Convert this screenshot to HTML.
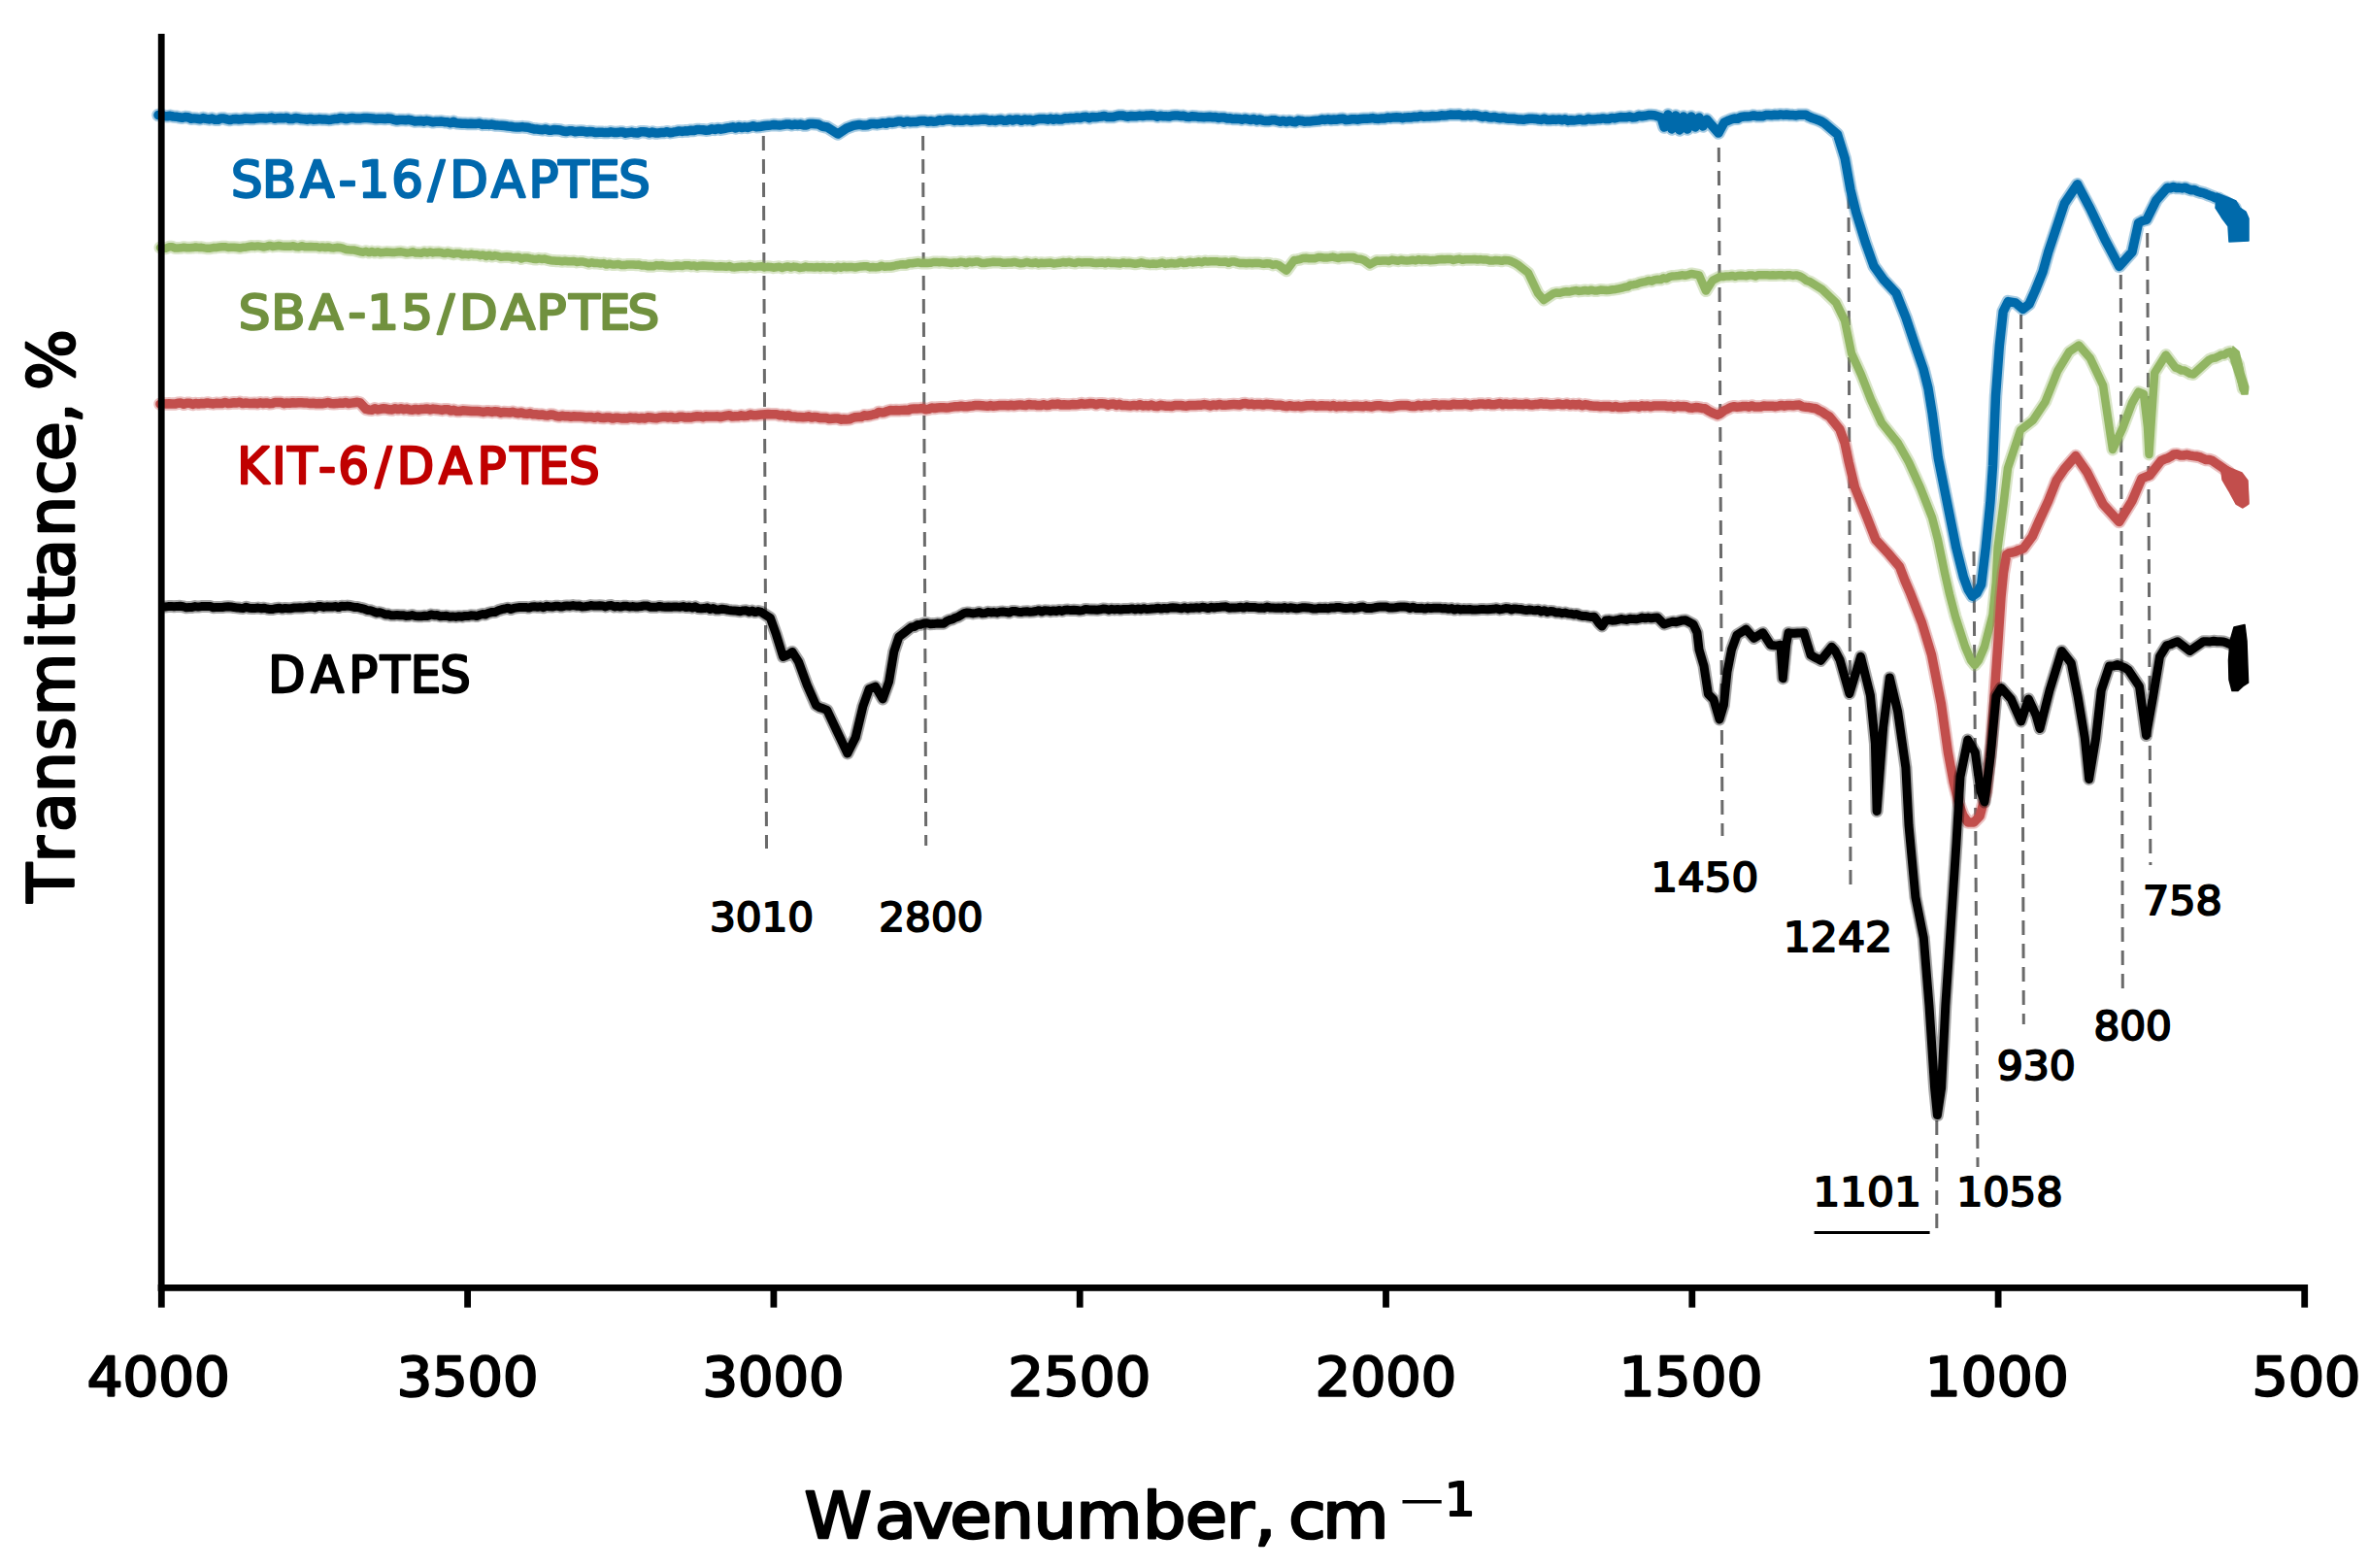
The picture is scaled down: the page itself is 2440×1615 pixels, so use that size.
<!DOCTYPE html>
<html><head><meta charset="utf-8"><title>FTIR spectra</title>
<style>html,body{margin:0;padding:0;background:#fff;overflow:hidden}svg{display:block}</style>
</head><body>
<svg xmlns="http://www.w3.org/2000/svg" width="2440" height="1615" viewBox="0 0 2440 1615" font-family="'DejaVu Sans', 'Liberation Sans', sans-serif" font-size="100">
<rect width="2440" height="1615" fill="#fff"/>
<g stroke="#6a6a6a" stroke-width="3" stroke-dasharray="15 9" fill="none"><line x1="786.3" y1="140" x2="789.5" y2="874"/><line x1="950.6" y1="140" x2="953.7" y2="871"/><line x1="1770.3" y1="152" x2="1774" y2="861"/><line x1="1904" y1="200" x2="1906" y2="911"/><line x1="1994.8" y1="1154" x2="1994.8" y2="1270"/><line x1="2033" y1="568" x2="2037" y2="1202"/><line x1="2081.6" y1="324" x2="2084.3" y2="1055"/><line x1="2184.3" y1="283" x2="2186.3" y2="1018"/><line x1="2211.7" y1="240" x2="2214.9" y2="891"/></g>
<path d="M163.0 118.5 L166.1 118.2 L169.2 119.6 L172.2 119.8 L175.3 119.3 L178.4 120.0 L181.5 120.2 L184.5 120.8 L187.6 121.3 L190.7 120.5 L193.8 120.7 L196.8 122.3 L199.9 121.9 L203.0 122.3 L206.1 122.8 L209.1 121.6 L212.2 122.4 L215.3 122.9 L218.4 122.1 L221.4 123.3 L224.5 123.3 L227.6 121.9 L230.6 122.0 L233.7 122.9 L236.8 123.6 L239.9 122.7 L242.9 122.5 L246.0 123.0 L249.1 122.8 L252.1 122.0 L255.2 122.2 L258.3 122.5 L261.4 122.5 L264.4 121.9 L267.5 121.8 L270.6 121.7 L273.6 122.0 L276.7 121.6 L279.8 121.1 L282.9 122.3 L285.9 121.7 L289.0 121.5 L292.1 121.8 L295.1 121.2 L298.2 122.6 L301.3 122.5 L304.4 121.4 L307.4 121.9 L310.5 122.6 L313.6 122.7 L316.6 123.2 L319.7 122.4 L322.8 123.2 L325.9 123.1 L328.9 122.6 L332.0 123.0 L335.1 123.0 L338.1 123.4 L341.2 123.2 L344.3 122.6 L347.4 122.6 L350.4 121.6 L353.5 121.8 L356.6 122.6 L359.6 121.9 L362.7 121.4 L365.8 121.9 L368.9 122.0 L371.9 121.9 L375.0 121.5 L378.1 121.5 L381.1 121.7 L384.2 122.0 L387.3 122.6 L390.4 122.3 L393.4 122.3 L396.5 122.6 L399.6 122.0 L402.6 122.2 L405.7 123.4 L408.8 124.0 L411.9 123.5 L414.9 123.4 L418.0 123.7 L421.1 123.3 L424.1 124.0 L427.2 124.9 L430.3 124.7 L433.4 124.5 L436.4 125.2 L439.5 124.3 L442.6 124.9 L445.6 125.8 L448.7 125.3 L451.8 125.3 L454.9 125.1 L457.9 125.7 L461.0 125.8 L464.0 126.7 L467.0 125.3 L470.0 126.8 L473.0 127.0 L476.0 127.3 L479.0 127.2 L482.0 127.5 L485.0 127.2 L488.0 127.4 L491.0 127.4 L494.0 127.0 L497.0 128.4 L500.0 128.0 L503.3 128.4 L506.6 128.1 L509.9 128.9 L513.1 129.1 L516.4 129.2 L519.7 129.5 L523.0 130.0 L526.0 130.3 L529.0 130.7 L532.0 131.0 L535.0 131.0 L538.0 130.6 L541.0 131.1 L544.0 131.3 L547.0 132.2 L550.0 132.9 L553.0 133.1 L556.0 133.4 L559.0 133.7 L562.0 133.0 L565.0 134.2 L568.0 134.2 L571.0 133.5 L574.0 133.7 L577.0 134.0 L580.0 135.0 L583.1 135.5 L586.1 134.8 L589.2 134.7 L592.3 135.7 L595.4 135.3 L598.4 135.0 L601.5 135.3 L604.6 136.0 L607.6 135.5 L610.7 135.8 L613.8 136.6 L616.9 136.3 L619.9 136.2 L623.0 136.6 L626.1 136.6 L629.1 135.8 L632.2 136.4 L635.2 136.5 L638.3 136.1 L641.3 136.0 L644.4 137.2 L647.4 136.6 L650.5 136.1 L653.5 136.8 L656.6 137.1 L659.6 135.8 L662.7 135.8 L665.7 136.0 L668.8 137.0 L671.8 136.1 L674.9 136.9 L677.9 136.9 L681.0 136.6 L684.1 136.5 L687.1 135.7 L690.2 136.7 L693.3 136.2 L696.4 135.6 L699.4 134.9 L702.5 135.4 L705.6 134.8 L708.6 134.9 L711.7 134.2 L714.8 134.5 L717.9 133.4 L720.9 133.6 L724.0 133.7 L727.1 134.2 L730.1 133.9 L733.2 132.8 L736.3 133.4 L739.4 132.4 L742.4 133.2 L745.5 132.6 L748.6 131.9 L751.6 131.4 L754.7 130.8 L757.8 132.0 L760.9 130.5 L763.9 131.5 L767.0 130.8 L770.0 131.4 L773.0 130.5 L776.0 129.7 L779.0 130.7 L782.0 130.6 L785.0 130.0 L788.0 129.5 L791.0 129.2 L794.0 128.9 L797.0 128.5 L800.0 128.8 L803.1 129.0 L806.1 128.6 L809.2 128.1 L812.3 127.9 L815.4 128.8 L818.4 128.1 L821.5 128.4 L824.6 128.1 L827.6 128.9 L830.7 128.9 L833.8 127.4 L836.9 127.6 L839.9 127.8 L843.0 128.0 L846.0 129.8 L849.0 130.5 L852.0 131.0 L863.0 138.0 L872.0 132.0 L879.0 129.4 L882.0 128.9 L885.0 128.4 L888.0 128.9 L891.0 128.9 L894.0 128.7 L897.0 127.5 L900.0 127.5 L903.1 127.9 L906.3 127.3 L909.4 126.7 L912.6 127.3 L915.7 125.9 L918.9 126.4 L922.0 125.8 L925.0 125.0 L928.1 125.1 L931.1 126.2 L934.2 124.9 L937.2 125.7 L940.3 125.4 L943.3 125.6 L946.4 124.8 L949.4 124.6 L952.5 124.5 L955.5 125.3 L958.6 124.8 L961.6 125.2 L964.7 125.0 L967.7 123.7 L970.8 124.3 L973.8 123.5 L976.9 123.3 L979.9 123.2 L983.0 124.4 L986.0 123.7 L989.0 124.2 L992.0 124.2 L995.0 123.4 L998.0 123.9 L1001.0 124.2 L1004.0 123.5 L1007.0 123.8 L1010.0 123.3 L1013.0 123.0 L1016.0 123.3 L1019.0 124.3 L1022.0 123.8 L1025.0 124.4 L1028.0 123.6 L1031.0 123.3 L1034.0 124.2 L1037.0 124.2 L1040.0 122.9 L1043.0 124.0 L1046.0 123.0 L1049.0 123.1 L1052.0 124.3 L1055.0 123.0 L1058.0 123.7 L1061.0 123.2 L1064.0 124.2 L1067.0 123.2 L1070.0 122.6 L1073.0 122.6 L1076.0 122.6 L1079.0 123.2 L1082.0 122.1 L1085.0 123.3 L1088.0 122.3 L1091.0 123.1 L1094.0 122.9 L1097.0 121.8 L1100.0 122.0 L1103.1 121.4 L1106.2 121.7 L1109.4 120.9 L1112.5 121.6 L1115.6 120.5 L1118.8 120.3 L1121.9 121.7 L1125.0 120.4 L1128.1 120.7 L1131.2 120.4 L1134.4 120.0 L1137.5 119.4 L1140.6 120.6 L1143.8 120.6 L1146.9 120.4 L1150.0 119.5 L1153.0 118.9 L1156.0 119.0 L1159.0 119.7 L1162.0 120.2 L1165.0 119.5 L1168.0 119.8 L1171.0 119.7 L1174.0 119.1 L1177.0 119.5 L1180.0 119.1 L1183.0 119.0 L1186.0 118.8 L1189.0 119.1 L1192.0 120.2 L1195.0 119.3 L1198.0 119.7 L1201.0 119.7 L1204.0 120.1 L1207.0 119.2 L1210.0 119.1 L1213.0 119.1 L1216.0 119.4 L1219.0 119.3 L1222.0 120.3 L1225.0 120.5 L1228.0 119.7 L1231.0 119.9 L1234.0 120.4 L1237.0 120.6 L1240.0 120.8 L1243.0 120.4 L1246.0 120.2 L1249.0 120.7 L1252.0 120.5 L1255.0 121.5 L1258.0 120.9 L1261.0 121.0 L1264.0 122.1 L1267.0 121.7 L1270.0 122.6 L1273.0 122.3 L1276.1 122.4 L1279.1 123.2 L1282.2 122.2 L1285.2 122.9 L1288.3 123.5 L1291.3 122.5 L1294.4 124.1 L1297.4 123.0 L1300.5 124.1 L1303.5 124.6 L1306.6 124.5 L1309.6 123.8 L1312.7 123.7 L1315.7 124.5 L1318.8 125.3 L1321.8 124.4 L1324.9 125.5 L1327.9 124.5 L1331.0 125.2 L1334.1 125.7 L1337.1 124.1 L1340.2 124.4 L1343.3 125.2 L1346.4 124.9 L1349.4 124.9 L1352.5 124.6 L1355.6 124.3 L1358.6 124.1 L1361.7 123.1 L1364.8 123.4 L1367.9 122.8 L1370.9 123.5 L1374.0 123.0 L1377.1 123.2 L1380.1 122.5 L1383.2 122.2 L1386.3 123.5 L1389.4 123.2 L1392.4 122.8 L1395.5 122.7 L1398.6 123.2 L1401.6 122.5 L1404.7 122.3 L1407.8 122.2 L1410.9 122.0 L1413.9 121.6 L1417.0 122.3 L1420.1 122.4 L1423.1 121.9 L1426.2 122.0 L1429.3 121.1 L1432.4 121.4 L1435.4 120.9 L1438.5 120.8 L1441.6 120.9 L1444.6 121.7 L1447.7 120.9 L1450.8 120.7 L1453.9 120.9 L1456.9 120.2 L1460.0 120.5 L1463.1 119.5 L1466.1 120.2 L1469.2 120.0 L1472.3 120.0 L1475.4 119.5 L1478.4 119.7 L1481.5 119.6 L1484.6 118.7 L1487.6 118.9 L1490.7 118.7 L1493.8 118.1 L1496.9 118.2 L1499.9 118.3 L1503.0 118.0 L1506.0 118.9 L1509.0 119.1 L1512.0 118.3 L1515.0 119.1 L1518.0 118.4 L1521.0 118.7 L1524.0 119.6 L1527.0 120.4 L1530.0 119.5 L1533.0 120.7 L1536.0 121.1 L1539.0 120.4 L1542.0 121.3 L1545.0 121.7 L1548.0 121.2 L1551.0 121.9 L1554.0 122.2 L1557.0 122.2 L1560.0 122.3 L1563.1 122.9 L1566.1 123.1 L1569.2 123.3 L1572.2 122.7 L1575.3 122.2 L1578.3 122.3 L1581.4 122.4 L1584.4 123.0 L1587.5 123.4 L1590.5 122.3 L1593.6 123.4 L1596.6 123.5 L1599.7 123.0 L1602.7 123.4 L1605.8 122.9 L1608.8 123.8 L1611.9 122.8 L1614.9 124.4 L1618.0 123.7 L1621.0 124.0 L1624.0 123.6 L1627.0 122.9 L1630.0 123.8 L1633.0 123.7 L1636.0 122.2 L1639.0 123.1 L1642.0 123.0 L1645.0 122.6 L1648.0 122.5 L1651.0 121.9 L1654.0 122.5 L1657.0 122.5 L1660.0 121.4 L1663.0 121.9 L1666.0 121.2 L1669.0 120.6 L1672.0 120.7 L1675.0 120.8 L1678.2 120.0 L1681.4 121.0 L1684.7 120.8 L1687.9 119.3 L1691.1 119.8 L1694.3 119.3 L1697.6 118.6 L1700.8 118.6 L1704.0 118.7 L1711.0 121.0 L1714.0 131.0 L1718.0 118.0 L1722.0 133.0 L1726.0 119.0 L1730.0 134.0 L1734.0 120.0 L1738.0 133.0 L1742.0 120.0 L1746.0 131.0 L1750.0 121.0 L1754.0 130.0 L1758.0 123.0 L1763.0 129.0 L1770.0 137.0 L1776.0 126.0 L1783.0 123.0 L1786.4 122.0 L1789.8 122.2 L1793.2 120.4 L1796.6 120.1 L1800.0 120.0 L1803.1 119.7 L1806.2 118.9 L1809.2 119.7 L1812.3 119.6 L1815.4 119.8 L1818.5 118.6 L1821.5 118.6 L1824.6 118.8 L1827.7 118.3 L1830.8 118.6 L1833.8 117.9 L1836.9 118.4 L1840.0 118.0 L1843.3 118.5 L1846.7 118.6 L1850.0 118.9 L1853.3 118.2 L1856.7 118.2 L1860.0 118.2 L1863.2 120.2 L1866.3 121.5 L1869.5 122.6 L1872.7 123.7 L1875.8 125.0 L1879.0 126.8 L1892.5 138.3 L1900.2 163.2 L1906.0 195.7 L1911.7 218.7 L1921.2 249.3 L1930.0 274.0 L1940.0 288.0 L1953.0 302.0 L1963.0 327.0 L1972.0 354.0 L1981.0 380.0 L1986.0 400.0 L1990.2 426.0 L1996.3 471.8 L2005.5 517.8 L2014.7 563.7 L2022.4 594.3 L2027.0 607.0 L2031.5 614.2 L2036.0 611.0 L2040.7 602.0 L2045.3 563.7 L2049.9 517.8 L2052.5 480.0 L2055.5 408.0 L2059.3 356.5 L2063.2 320.8 L2068.3 310.6 L2075.9 311.9 L2083.6 318.3 L2090.0 313.2 L2096.3 299.1 L2104.0 280.0 L2109.7 259.5 L2126.3 209.7 L2139.6 189.8 L2152.8 214.7 L2167.8 246.2 L2182.7 274.4 L2196.0 259.5 L2202.6 229.6 L2206.8 227.3 L2210.9 226.3 L2220.8 206.4 L2232.4 193.2 L2235.4 193.7 L2238.5 192.6 L2241.5 193.6 L2244.5 193.3 L2247.6 193.9 L2250.6 193.2 L2253.7 194.6 L2256.8 195.8 L2259.9 195.4 L2262.9 197.0 L2266.0 198.0 L2269.1 198.6 L2272.2 199.8 L2275.5 201.2 L2278.8 202.3 L2282.1 203.9 L2285.5 204.5 L2288.8 206.5 L2292.1 208.0 L2302.0 214.0 L2306.0 228.0 L2306.0 242.0" fill="none" stroke="#006aab" stroke-opacity="0.35" stroke-width="13.5" stroke-linejoin="round" stroke-linecap="round"/>
<path d="M163.0 118.5 L166.1 118.2 L169.2 119.6 L172.2 119.8 L175.3 119.3 L178.4 120.0 L181.5 120.2 L184.5 120.8 L187.6 121.3 L190.7 120.5 L193.8 120.7 L196.8 122.3 L199.9 121.9 L203.0 122.3 L206.1 122.8 L209.1 121.6 L212.2 122.4 L215.3 122.9 L218.4 122.1 L221.4 123.3 L224.5 123.3 L227.6 121.9 L230.6 122.0 L233.7 122.9 L236.8 123.6 L239.9 122.7 L242.9 122.5 L246.0 123.0 L249.1 122.8 L252.1 122.0 L255.2 122.2 L258.3 122.5 L261.4 122.5 L264.4 121.9 L267.5 121.8 L270.6 121.7 L273.6 122.0 L276.7 121.6 L279.8 121.1 L282.9 122.3 L285.9 121.7 L289.0 121.5 L292.1 121.8 L295.1 121.2 L298.2 122.6 L301.3 122.5 L304.4 121.4 L307.4 121.9 L310.5 122.6 L313.6 122.7 L316.6 123.2 L319.7 122.4 L322.8 123.2 L325.9 123.1 L328.9 122.6 L332.0 123.0 L335.1 123.0 L338.1 123.4 L341.2 123.2 L344.3 122.6 L347.4 122.6 L350.4 121.6 L353.5 121.8 L356.6 122.6 L359.6 121.9 L362.7 121.4 L365.8 121.9 L368.9 122.0 L371.9 121.9 L375.0 121.5 L378.1 121.5 L381.1 121.7 L384.2 122.0 L387.3 122.6 L390.4 122.3 L393.4 122.3 L396.5 122.6 L399.6 122.0 L402.6 122.2 L405.7 123.4 L408.8 124.0 L411.9 123.5 L414.9 123.4 L418.0 123.7 L421.1 123.3 L424.1 124.0 L427.2 124.9 L430.3 124.7 L433.4 124.5 L436.4 125.2 L439.5 124.3 L442.6 124.9 L445.6 125.8 L448.7 125.3 L451.8 125.3 L454.9 125.1 L457.9 125.7 L461.0 125.8 L464.0 126.7 L467.0 125.3 L470.0 126.8 L473.0 127.0 L476.0 127.3 L479.0 127.2 L482.0 127.5 L485.0 127.2 L488.0 127.4 L491.0 127.4 L494.0 127.0 L497.0 128.4 L500.0 128.0 L503.3 128.4 L506.6 128.1 L509.9 128.9 L513.1 129.1 L516.4 129.2 L519.7 129.5 L523.0 130.0 L526.0 130.3 L529.0 130.7 L532.0 131.0 L535.0 131.0 L538.0 130.6 L541.0 131.1 L544.0 131.3 L547.0 132.2 L550.0 132.9 L553.0 133.1 L556.0 133.4 L559.0 133.7 L562.0 133.0 L565.0 134.2 L568.0 134.2 L571.0 133.5 L574.0 133.7 L577.0 134.0 L580.0 135.0 L583.1 135.5 L586.1 134.8 L589.2 134.7 L592.3 135.7 L595.4 135.3 L598.4 135.0 L601.5 135.3 L604.6 136.0 L607.6 135.5 L610.7 135.8 L613.8 136.6 L616.9 136.3 L619.9 136.2 L623.0 136.6 L626.1 136.6 L629.1 135.8 L632.2 136.4 L635.2 136.5 L638.3 136.1 L641.3 136.0 L644.4 137.2 L647.4 136.6 L650.5 136.1 L653.5 136.8 L656.6 137.1 L659.6 135.8 L662.7 135.8 L665.7 136.0 L668.8 137.0 L671.8 136.1 L674.9 136.9 L677.9 136.9 L681.0 136.6 L684.1 136.5 L687.1 135.7 L690.2 136.7 L693.3 136.2 L696.4 135.6 L699.4 134.9 L702.5 135.4 L705.6 134.8 L708.6 134.9 L711.7 134.2 L714.8 134.5 L717.9 133.4 L720.9 133.6 L724.0 133.7 L727.1 134.2 L730.1 133.9 L733.2 132.8 L736.3 133.4 L739.4 132.4 L742.4 133.2 L745.5 132.6 L748.6 131.9 L751.6 131.4 L754.7 130.8 L757.8 132.0 L760.9 130.5 L763.9 131.5 L767.0 130.8 L770.0 131.4 L773.0 130.5 L776.0 129.7 L779.0 130.7 L782.0 130.6 L785.0 130.0 L788.0 129.5 L791.0 129.2 L794.0 128.9 L797.0 128.5 L800.0 128.8 L803.1 129.0 L806.1 128.6 L809.2 128.1 L812.3 127.9 L815.4 128.8 L818.4 128.1 L821.5 128.4 L824.6 128.1 L827.6 128.9 L830.7 128.9 L833.8 127.4 L836.9 127.6 L839.9 127.8 L843.0 128.0 L846.0 129.8 L849.0 130.5 L852.0 131.0 L863.0 138.0 L872.0 132.0 L879.0 129.4 L882.0 128.9 L885.0 128.4 L888.0 128.9 L891.0 128.9 L894.0 128.7 L897.0 127.5 L900.0 127.5 L903.1 127.9 L906.3 127.3 L909.4 126.7 L912.6 127.3 L915.7 125.9 L918.9 126.4 L922.0 125.8 L925.0 125.0 L928.1 125.1 L931.1 126.2 L934.2 124.9 L937.2 125.7 L940.3 125.4 L943.3 125.6 L946.4 124.8 L949.4 124.6 L952.5 124.5 L955.5 125.3 L958.6 124.8 L961.6 125.2 L964.7 125.0 L967.7 123.7 L970.8 124.3 L973.8 123.5 L976.9 123.3 L979.9 123.2 L983.0 124.4 L986.0 123.7 L989.0 124.2 L992.0 124.2 L995.0 123.4 L998.0 123.9 L1001.0 124.2 L1004.0 123.5 L1007.0 123.8 L1010.0 123.3 L1013.0 123.0 L1016.0 123.3 L1019.0 124.3 L1022.0 123.8 L1025.0 124.4 L1028.0 123.6 L1031.0 123.3 L1034.0 124.2 L1037.0 124.2 L1040.0 122.9 L1043.0 124.0 L1046.0 123.0 L1049.0 123.1 L1052.0 124.3 L1055.0 123.0 L1058.0 123.7 L1061.0 123.2 L1064.0 124.2 L1067.0 123.2 L1070.0 122.6 L1073.0 122.6 L1076.0 122.6 L1079.0 123.2 L1082.0 122.1 L1085.0 123.3 L1088.0 122.3 L1091.0 123.1 L1094.0 122.9 L1097.0 121.8 L1100.0 122.0 L1103.1 121.4 L1106.2 121.7 L1109.4 120.9 L1112.5 121.6 L1115.6 120.5 L1118.8 120.3 L1121.9 121.7 L1125.0 120.4 L1128.1 120.7 L1131.2 120.4 L1134.4 120.0 L1137.5 119.4 L1140.6 120.6 L1143.8 120.6 L1146.9 120.4 L1150.0 119.5 L1153.0 118.9 L1156.0 119.0 L1159.0 119.7 L1162.0 120.2 L1165.0 119.5 L1168.0 119.8 L1171.0 119.7 L1174.0 119.1 L1177.0 119.5 L1180.0 119.1 L1183.0 119.0 L1186.0 118.8 L1189.0 119.1 L1192.0 120.2 L1195.0 119.3 L1198.0 119.7 L1201.0 119.7 L1204.0 120.1 L1207.0 119.2 L1210.0 119.1 L1213.0 119.1 L1216.0 119.4 L1219.0 119.3 L1222.0 120.3 L1225.0 120.5 L1228.0 119.7 L1231.0 119.9 L1234.0 120.4 L1237.0 120.6 L1240.0 120.8 L1243.0 120.4 L1246.0 120.2 L1249.0 120.7 L1252.0 120.5 L1255.0 121.5 L1258.0 120.9 L1261.0 121.0 L1264.0 122.1 L1267.0 121.7 L1270.0 122.6 L1273.0 122.3 L1276.1 122.4 L1279.1 123.2 L1282.2 122.2 L1285.2 122.9 L1288.3 123.5 L1291.3 122.5 L1294.4 124.1 L1297.4 123.0 L1300.5 124.1 L1303.5 124.6 L1306.6 124.5 L1309.6 123.8 L1312.7 123.7 L1315.7 124.5 L1318.8 125.3 L1321.8 124.4 L1324.9 125.5 L1327.9 124.5 L1331.0 125.2 L1334.1 125.7 L1337.1 124.1 L1340.2 124.4 L1343.3 125.2 L1346.4 124.9 L1349.4 124.9 L1352.5 124.6 L1355.6 124.3 L1358.6 124.1 L1361.7 123.1 L1364.8 123.4 L1367.9 122.8 L1370.9 123.5 L1374.0 123.0 L1377.1 123.2 L1380.1 122.5 L1383.2 122.2 L1386.3 123.5 L1389.4 123.2 L1392.4 122.8 L1395.5 122.7 L1398.6 123.2 L1401.6 122.5 L1404.7 122.3 L1407.8 122.2 L1410.9 122.0 L1413.9 121.6 L1417.0 122.3 L1420.1 122.4 L1423.1 121.9 L1426.2 122.0 L1429.3 121.1 L1432.4 121.4 L1435.4 120.9 L1438.5 120.8 L1441.6 120.9 L1444.6 121.7 L1447.7 120.9 L1450.8 120.7 L1453.9 120.9 L1456.9 120.2 L1460.0 120.5 L1463.1 119.5 L1466.1 120.2 L1469.2 120.0 L1472.3 120.0 L1475.4 119.5 L1478.4 119.7 L1481.5 119.6 L1484.6 118.7 L1487.6 118.9 L1490.7 118.7 L1493.8 118.1 L1496.9 118.2 L1499.9 118.3 L1503.0 118.0 L1506.0 118.9 L1509.0 119.1 L1512.0 118.3 L1515.0 119.1 L1518.0 118.4 L1521.0 118.7 L1524.0 119.6 L1527.0 120.4 L1530.0 119.5 L1533.0 120.7 L1536.0 121.1 L1539.0 120.4 L1542.0 121.3 L1545.0 121.7 L1548.0 121.2 L1551.0 121.9 L1554.0 122.2 L1557.0 122.2 L1560.0 122.3 L1563.1 122.9 L1566.1 123.1 L1569.2 123.3 L1572.2 122.7 L1575.3 122.2 L1578.3 122.3 L1581.4 122.4 L1584.4 123.0 L1587.5 123.4 L1590.5 122.3 L1593.6 123.4 L1596.6 123.5 L1599.7 123.0 L1602.7 123.4 L1605.8 122.9 L1608.8 123.8 L1611.9 122.8 L1614.9 124.4 L1618.0 123.7 L1621.0 124.0 L1624.0 123.6 L1627.0 122.9 L1630.0 123.8 L1633.0 123.7 L1636.0 122.2 L1639.0 123.1 L1642.0 123.0 L1645.0 122.6 L1648.0 122.5 L1651.0 121.9 L1654.0 122.5 L1657.0 122.5 L1660.0 121.4 L1663.0 121.9 L1666.0 121.2 L1669.0 120.6 L1672.0 120.7 L1675.0 120.8 L1678.2 120.0 L1681.4 121.0 L1684.7 120.8 L1687.9 119.3 L1691.1 119.8 L1694.3 119.3 L1697.6 118.6 L1700.8 118.6 L1704.0 118.7 L1711.0 121.0 L1714.0 131.0 L1718.0 118.0 L1722.0 133.0 L1726.0 119.0 L1730.0 134.0 L1734.0 120.0 L1738.0 133.0 L1742.0 120.0 L1746.0 131.0 L1750.0 121.0 L1754.0 130.0 L1758.0 123.0 L1763.0 129.0 L1770.0 137.0 L1776.0 126.0 L1783.0 123.0 L1786.4 122.0 L1789.8 122.2 L1793.2 120.4 L1796.6 120.1 L1800.0 120.0 L1803.1 119.7 L1806.2 118.9 L1809.2 119.7 L1812.3 119.6 L1815.4 119.8 L1818.5 118.6 L1821.5 118.6 L1824.6 118.8 L1827.7 118.3 L1830.8 118.6 L1833.8 117.9 L1836.9 118.4 L1840.0 118.0 L1843.3 118.5 L1846.7 118.6 L1850.0 118.9 L1853.3 118.2 L1856.7 118.2 L1860.0 118.2 L1863.2 120.2 L1866.3 121.5 L1869.5 122.6 L1872.7 123.7 L1875.8 125.0 L1879.0 126.8 L1892.5 138.3 L1900.2 163.2 L1906.0 195.7 L1911.7 218.7 L1921.2 249.3 L1930.0 274.0 L1940.0 288.0 L1953.0 302.0 L1963.0 327.0 L1972.0 354.0 L1981.0 380.0 L1986.0 400.0 L1990.2 426.0 L1996.3 471.8 L2005.5 517.8 L2014.7 563.7 L2022.4 594.3 L2027.0 607.0 L2031.5 614.2 L2036.0 611.0 L2040.7 602.0 L2045.3 563.7 L2049.9 517.8 L2052.5 480.0 L2055.5 408.0 L2059.3 356.5 L2063.2 320.8 L2068.3 310.6 L2075.9 311.9 L2083.6 318.3 L2090.0 313.2 L2096.3 299.1 L2104.0 280.0 L2109.7 259.5 L2126.3 209.7 L2139.6 189.8 L2152.8 214.7 L2167.8 246.2 L2182.7 274.4 L2196.0 259.5 L2202.6 229.6 L2206.8 227.3 L2210.9 226.3 L2220.8 206.4 L2232.4 193.2 L2235.4 193.7 L2238.5 192.6 L2241.5 193.6 L2244.5 193.3 L2247.6 193.9 L2250.6 193.2 L2253.7 194.6 L2256.8 195.8 L2259.9 195.4 L2262.9 197.0 L2266.0 198.0 L2269.1 198.6 L2272.2 199.8 L2275.5 201.2 L2278.8 202.3 L2282.1 203.9 L2285.5 204.5 L2288.8 206.5 L2292.1 208.0 L2302.0 214.0 L2306.0 228.0 L2306.0 242.0" fill="none" stroke="#006aab" stroke-width="9.5" stroke-linejoin="round" stroke-linecap="round"/>
<polygon points="2283.0,199.0 2296.0,204.0 2303.0,207.0 2307.0,214.0 2313.0,218.0 2316.0,225.0 2316.0,248.0 2296.0,249.0 2295.0,233.0 2289.0,225.0 2282.0,214.0" fill="#006aab" stroke="#006aab" stroke-width="1.5" stroke-linejoin="round"/>
<path d="M165.0 255.0 L168.0 255.7 L171.1 255.7 L174.1 254.3 L177.2 254.3 L180.2 255.5 L183.2 255.4 L186.3 255.3 L189.3 254.7 L192.3 255.2 L195.4 255.2 L198.4 255.1 L201.5 254.5 L204.5 254.9 L207.5 254.8 L210.6 255.4 L213.6 255.8 L216.7 255.7 L219.7 255.1 L222.7 254.9 L225.8 254.6 L228.8 254.3 L231.8 254.2 L234.9 254.9 L237.9 254.7 L241.0 254.8 L244.0 255.0 L247.1 255.5 L250.1 254.8 L253.2 254.7 L256.3 254.0 L259.4 253.5 L262.4 253.9 L265.5 253.4 L268.6 253.9 L271.6 254.5 L274.7 253.9 L277.8 252.9 L280.9 253.9 L283.9 253.6 L287.0 253.0 L290.0 253.5 L293.0 253.8 L296.0 253.7 L299.0 253.8 L302.0 253.2 L305.0 254.3 L308.0 254.4 L311.0 253.2 L314.0 254.3 L317.0 254.3 L320.0 254.0 L323.0 254.2 L326.0 254.2 L329.0 255.0 L332.0 254.4 L335.0 255.1 L338.0 254.4 L341.0 255.3 L344.0 255.4 L347.0 254.8 L350.0 255.0 L353.0 255.7 L356.0 256.9 L359.0 257.2 L362.0 257.4 L365.0 257.6 L368.0 258.4 L371.0 259.3 L374.0 259.7 L377.0 258.8 L380.0 260.1 L383.0 259.1 L386.0 260.1 L389.0 259.2 L392.0 260.3 L395.0 259.9 L398.0 259.6 L401.0 259.7 L404.0 259.9 L407.0 259.9 L410.0 259.5 L413.0 259.3 L416.0 259.9 L419.0 260.6 L422.0 260.1 L425.0 259.3 L428.0 260.5 L431.0 260.4 L434.0 260.7 L437.0 259.6 L440.0 260.5 L443.0 259.5 L446.0 260.4 L449.0 259.9 L452.0 259.8 L455.0 260.3 L458.0 261.1 L461.1 260.1 L464.1 260.9 L467.2 261.7 L470.2 260.9 L473.3 261.0 L476.3 262.3 L479.4 261.8 L482.4 262.4 L485.5 261.6 L488.5 262.3 L491.6 262.2 L494.6 263.2 L497.7 262.4 L500.7 264.0 L503.8 262.7 L506.8 264.1 L509.9 263.1 L512.9 263.7 L516.0 264.8 L519.0 264.5 L522.0 264.2 L525.0 264.4 L528.0 265.4 L531.0 265.1 L534.0 264.8 L537.0 266.5 L540.0 265.4 L543.0 265.4 L546.0 266.1 L549.0 266.7 L552.0 267.1 L555.0 266.3 L558.0 266.9 L561.0 266.6 L564.0 267.5 L567.0 268.2 L570.0 268.4 L573.0 268.8 L576.0 268.8 L579.0 269.2 L582.0 268.8 L585.1 269.3 L588.1 269.2 L591.2 269.0 L594.2 269.9 L597.3 269.6 L600.3 269.5 L603.4 270.3 L606.4 271.2 L609.5 270.2 L612.5 271.1 L615.6 271.1 L618.6 271.5 L621.7 271.1 L624.7 272.6 L627.8 271.7 L630.8 272.5 L633.9 272.4 L636.9 272.0 L640.0 273.0 L643.0 273.1 L646.0 272.5 L649.0 272.4 L652.0 272.4 L655.0 272.7 L658.0 272.6 L661.0 273.5 L664.0 273.4 L667.0 274.2 L670.0 274.1 L673.0 274.3 L676.0 273.1 L679.0 273.5 L682.0 273.2 L685.0 273.8 L688.0 273.9 L691.0 274.2 L694.0 274.1 L697.0 273.4 L700.0 273.7 L703.0 273.9 L706.0 273.2 L709.0 273.2 L712.0 273.9 L715.0 273.4 L718.0 274.5 L721.0 273.7 L724.0 273.6 L727.0 273.7 L730.0 273.9 L733.0 273.9 L736.0 274.4 L739.0 274.4 L742.0 274.2 L745.0 274.5 L748.0 274.8 L751.1 274.1 L754.1 275.2 L757.1 275.4 L760.1 275.0 L763.2 274.6 L766.2 274.7 L769.2 274.9 L772.3 274.1 L775.3 274.7 L778.3 274.9 L781.3 274.4 L784.4 274.3 L787.4 275.4 L790.4 274.8 L793.5 275.0 L796.5 275.7 L799.5 275.2 L802.5 274.8 L805.6 275.9 L808.6 275.0 L811.6 274.4 L814.7 275.5 L817.7 274.6 L820.7 275.0 L823.7 275.9 L826.8 275.6 L829.8 274.6 L832.8 275.3 L835.9 275.3 L838.9 275.5 L841.9 275.0 L844.9 275.7 L848.0 274.9 L851.0 275.6 L854.0 275.2 L857.0 275.3 L860.0 276.1 L863.0 274.7 L866.0 275.7 L869.0 274.8 L872.0 275.3 L875.0 275.0 L878.0 275.1 L881.0 275.5 L884.0 274.9 L887.0 274.4 L890.0 274.3 L893.0 274.2 L896.0 275.4 L899.0 275.0 L902.0 275.4 L905.0 275.0 L908.0 273.8 L911.0 274.8 L914.0 274.5 L917.2 274.5 L920.4 274.0 L923.6 273.2 L926.8 272.6 L930.0 272.3 L933.2 272.5 L936.4 271.2 L939.6 271.2 L942.8 270.7 L946.0 270.3 L949.1 271.0 L952.2 270.8 L955.2 271.0 L958.3 270.8 L961.4 270.0 L964.5 269.9 L967.6 270.3 L970.7 269.9 L973.8 270.2 L976.8 270.6 L979.9 271.0 L983.0 270.4 L986.1 270.8 L989.2 269.7 L992.2 270.1 L995.3 271.1 L998.4 269.7 L1001.5 270.2 L1004.6 269.6 L1007.7 269.6 L1010.8 270.9 L1013.8 271.1 L1016.9 270.5 L1020.0 270.3 L1023.1 269.7 L1026.2 270.0 L1029.3 269.9 L1032.4 270.7 L1035.5 270.7 L1038.6 270.4 L1041.7 270.5 L1044.8 269.9 L1047.9 270.6 L1051.1 271.3 L1054.2 271.0 L1057.3 270.0 L1060.4 270.7 L1063.5 271.0 L1066.6 270.3 L1069.7 271.4 L1072.8 270.7 L1075.9 271.1 L1079.0 270.8 L1082.2 270.6 L1085.3 271.5 L1088.5 271.1 L1091.6 270.8 L1094.8 270.0 L1097.9 270.5 L1101.1 269.8 L1104.2 270.6 L1107.4 271.1 L1110.5 269.9 L1113.7 270.4 L1116.8 270.3 L1120.0 270.3 L1123.1 270.2 L1126.2 270.7 L1129.2 271.1 L1132.3 270.8 L1135.4 270.5 L1138.5 271.3 L1141.6 270.3 L1144.7 271.1 L1147.8 271.0 L1150.8 271.2 L1153.9 271.4 L1157.0 270.4 L1160.1 271.1 L1163.2 270.8 L1166.2 271.3 L1169.3 271.8 L1172.4 271.3 L1175.5 270.3 L1178.6 271.1 L1181.7 271.6 L1184.8 271.9 L1187.8 271.5 L1190.9 271.9 L1194.0 271.4 L1197.1 270.5 L1200.2 271.9 L1203.4 271.4 L1206.5 271.1 L1209.6 271.4 L1212.7 271.3 L1215.8 269.9 L1218.9 270.9 L1222.1 270.7 L1225.2 269.7 L1228.3 270.4 L1231.4 270.1 L1234.5 269.3 L1237.6 270.2 L1240.8 269.0 L1243.9 269.6 L1247.0 269.3 L1250.1 269.3 L1253.1 269.2 L1256.2 269.8 L1259.2 269.7 L1262.3 269.4 L1265.4 270.8 L1268.4 269.5 L1271.5 269.5 L1274.5 270.4 L1277.6 271.1 L1280.6 270.9 L1283.7 271.2 L1286.8 270.9 L1289.8 271.3 L1292.9 270.9 L1295.9 270.9 L1299.0 271.4 L1302.0 271.7 L1305.0 271.2 L1308.0 271.5 L1311.0 272.9 L1314.0 272.2 L1317.0 273.0 L1325.0 278.8 L1333.0 268.0 L1336.0 267.7 L1339.0 267.1 L1342.0 266.0 L1345.1 265.8 L1348.1 266.2 L1351.2 266.3 L1354.2 266.3 L1357.3 265.1 L1360.4 265.1 L1363.4 265.4 L1366.5 265.5 L1369.5 265.1 L1372.6 264.6 L1375.6 265.4 L1378.7 266.0 L1381.8 265.0 L1384.8 265.2 L1387.9 264.9 L1390.9 265.0 L1394.0 265.0 L1397.7 266.6 L1401.3 266.7 L1405.0 268.0 L1411.0 272.4 L1418.0 268.5 L1421.2 268.7 L1424.3 268.4 L1427.5 268.4 L1430.7 269.0 L1433.8 267.6 L1437.0 268.2 L1440.0 268.7 L1443.0 267.8 L1446.0 268.3 L1449.0 268.5 L1452.0 268.2 L1455.0 267.7 L1458.0 268.4 L1461.0 267.2 L1464.0 268.0 L1467.0 267.5 L1470.0 267.7 L1473.0 268.2 L1476.0 268.1 L1479.0 267.7 L1482.0 267.2 L1485.0 267.0 L1488.0 267.3 L1491.0 266.9 L1494.0 266.9 L1497.0 268.0 L1500.0 267.2 L1503.1 266.6 L1506.2 267.8 L1509.4 267.2 L1512.5 267.2 L1515.6 267.2 L1518.7 266.9 L1521.8 267.5 L1524.9 267.1 L1528.1 267.6 L1531.2 267.5 L1534.3 268.5 L1537.4 268.6 L1540.5 267.9 L1543.6 268.2 L1546.8 268.8 L1549.9 267.9 L1553.0 268.2 L1556.3 269.0 L1559.7 270.6 L1563.0 272.4 L1574.0 281.0 L1584.0 302.0 L1590.0 309.0 L1600.0 302.3 L1603.3 301.4 L1606.7 301.7 L1610.0 300.7 L1613.3 300.3 L1616.7 300.5 L1620.0 299.6 L1623.2 299.1 L1626.3 299.9 L1629.5 299.5 L1632.6 299.0 L1635.8 299.6 L1638.9 298.7 L1642.1 299.5 L1645.2 299.4 L1648.4 298.6 L1651.5 298.8 L1654.7 299.1 L1657.8 298.7 L1661.0 298.2 L1664.1 297.9 L1667.2 297.3 L1670.3 296.7 L1673.4 295.7 L1676.5 295.3 L1679.5 293.4 L1682.6 293.2 L1685.7 292.6 L1688.8 291.4 L1691.9 290.7 L1695.0 290.1 L1698.1 289.0 L1701.2 289.7 L1704.3 288.2 L1707.4 287.8 L1710.5 288.0 L1713.5 286.3 L1716.6 287.0 L1719.7 285.1 L1722.8 284.4 L1725.9 284.3 L1729.0 284.0 L1732.2 283.3 L1735.5 283.7 L1738.8 283.1 L1742.0 282.0 L1750.0 283.4 L1757.0 299.6 L1764.0 288.8 L1772.0 284.7 L1775.0 285.0 L1778.0 284.4 L1781.0 284.5 L1784.0 283.9 L1787.0 284.8 L1790.0 284.0 L1793.0 283.7 L1796.0 284.0 L1799.0 284.2 L1802.0 283.4 L1805.0 283.6 L1808.0 284.5 L1811.0 283.2 L1814.0 283.2 L1817.0 283.3 L1820.0 283.3 L1823.0 283.6 L1826.0 283.3 L1829.0 283.4 L1832.0 283.2 L1835.0 283.2 L1838.0 283.7 L1841.0 283.2 L1844.0 283.3 L1847.0 283.9 L1850.0 283.4 L1853.5 284.4 L1857.0 286.2 L1860.5 289.0 L1864.0 290.1 L1877.0 298.2 L1891.0 311.7 L1900.0 330.0 L1907.0 364.0 L1917.0 386.0 L1927.0 411.6 L1938.0 435.4 L1955.0 456.5 L1966.0 476.0 L1978.0 502.5 L1990.0 533.0 L1996.0 556.0 L2003.0 590.0 L2008.0 612.0 L2014.0 635.0 L2024.0 666.0 L2030.0 680.0 L2034.0 685.0 L2038.0 680.0 L2044.0 666.0 L2052.5 633.0 L2055.8 600.0 L2057.6 564.0 L2063.7 518.0 L2068.0 482.0 L2072.0 470.0 L2081.0 443.0 L2093.8 433.0 L2106.5 414.0 L2119.3 382.0 L2131.3 362.3 L2141.2 355.6 L2152.8 368.9 L2166.1 397.0 L2172.7 441.4 L2176.0 463.0 L2186.0 441.4 L2196.0 415.0 L2202.6 403.7 L2208.0 406.0 L2212.0 440.0 L2213.5 468.0 L2216.0 430.0 L2219.2 384.0 L2230.8 365.6 L2240.7 378.8 L2243.8 379.8 L2246.8 381.5 L2249.8 381.6 L2252.9 383.3 L2255.9 384.9 L2259.0 385.5 L2275.5 370.5 L2278.6 369.1 L2281.7 368.6 L2284.8 367.2 L2287.8 365.6 L2290.9 365.4 L2294.0 363.3 L2297.1 362.3 L2305.4 375.5 L2310.3 400.4" fill="none" stroke="#91b562" stroke-opacity="0.35" stroke-width="13.0" stroke-linejoin="round" stroke-linecap="round"/>
<path d="M165.0 255.0 L168.0 255.7 L171.1 255.7 L174.1 254.3 L177.2 254.3 L180.2 255.5 L183.2 255.4 L186.3 255.3 L189.3 254.7 L192.3 255.2 L195.4 255.2 L198.4 255.1 L201.5 254.5 L204.5 254.9 L207.5 254.8 L210.6 255.4 L213.6 255.8 L216.7 255.7 L219.7 255.1 L222.7 254.9 L225.8 254.6 L228.8 254.3 L231.8 254.2 L234.9 254.9 L237.9 254.7 L241.0 254.8 L244.0 255.0 L247.1 255.5 L250.1 254.8 L253.2 254.7 L256.3 254.0 L259.4 253.5 L262.4 253.9 L265.5 253.4 L268.6 253.9 L271.6 254.5 L274.7 253.9 L277.8 252.9 L280.9 253.9 L283.9 253.6 L287.0 253.0 L290.0 253.5 L293.0 253.8 L296.0 253.7 L299.0 253.8 L302.0 253.2 L305.0 254.3 L308.0 254.4 L311.0 253.2 L314.0 254.3 L317.0 254.3 L320.0 254.0 L323.0 254.2 L326.0 254.2 L329.0 255.0 L332.0 254.4 L335.0 255.1 L338.0 254.4 L341.0 255.3 L344.0 255.4 L347.0 254.8 L350.0 255.0 L353.0 255.7 L356.0 256.9 L359.0 257.2 L362.0 257.4 L365.0 257.6 L368.0 258.4 L371.0 259.3 L374.0 259.7 L377.0 258.8 L380.0 260.1 L383.0 259.1 L386.0 260.1 L389.0 259.2 L392.0 260.3 L395.0 259.9 L398.0 259.6 L401.0 259.7 L404.0 259.9 L407.0 259.9 L410.0 259.5 L413.0 259.3 L416.0 259.9 L419.0 260.6 L422.0 260.1 L425.0 259.3 L428.0 260.5 L431.0 260.4 L434.0 260.7 L437.0 259.6 L440.0 260.5 L443.0 259.5 L446.0 260.4 L449.0 259.9 L452.0 259.8 L455.0 260.3 L458.0 261.1 L461.1 260.1 L464.1 260.9 L467.2 261.7 L470.2 260.9 L473.3 261.0 L476.3 262.3 L479.4 261.8 L482.4 262.4 L485.5 261.6 L488.5 262.3 L491.6 262.2 L494.6 263.2 L497.7 262.4 L500.7 264.0 L503.8 262.7 L506.8 264.1 L509.9 263.1 L512.9 263.7 L516.0 264.8 L519.0 264.5 L522.0 264.2 L525.0 264.4 L528.0 265.4 L531.0 265.1 L534.0 264.8 L537.0 266.5 L540.0 265.4 L543.0 265.4 L546.0 266.1 L549.0 266.7 L552.0 267.1 L555.0 266.3 L558.0 266.9 L561.0 266.6 L564.0 267.5 L567.0 268.2 L570.0 268.4 L573.0 268.8 L576.0 268.8 L579.0 269.2 L582.0 268.8 L585.1 269.3 L588.1 269.2 L591.2 269.0 L594.2 269.9 L597.3 269.6 L600.3 269.5 L603.4 270.3 L606.4 271.2 L609.5 270.2 L612.5 271.1 L615.6 271.1 L618.6 271.5 L621.7 271.1 L624.7 272.6 L627.8 271.7 L630.8 272.5 L633.9 272.4 L636.9 272.0 L640.0 273.0 L643.0 273.1 L646.0 272.5 L649.0 272.4 L652.0 272.4 L655.0 272.7 L658.0 272.6 L661.0 273.5 L664.0 273.4 L667.0 274.2 L670.0 274.1 L673.0 274.3 L676.0 273.1 L679.0 273.5 L682.0 273.2 L685.0 273.8 L688.0 273.9 L691.0 274.2 L694.0 274.1 L697.0 273.4 L700.0 273.7 L703.0 273.9 L706.0 273.2 L709.0 273.2 L712.0 273.9 L715.0 273.4 L718.0 274.5 L721.0 273.7 L724.0 273.6 L727.0 273.7 L730.0 273.9 L733.0 273.9 L736.0 274.4 L739.0 274.4 L742.0 274.2 L745.0 274.5 L748.0 274.8 L751.1 274.1 L754.1 275.2 L757.1 275.4 L760.1 275.0 L763.2 274.6 L766.2 274.7 L769.2 274.9 L772.3 274.1 L775.3 274.7 L778.3 274.9 L781.3 274.4 L784.4 274.3 L787.4 275.4 L790.4 274.8 L793.5 275.0 L796.5 275.7 L799.5 275.2 L802.5 274.8 L805.6 275.9 L808.6 275.0 L811.6 274.4 L814.7 275.5 L817.7 274.6 L820.7 275.0 L823.7 275.9 L826.8 275.6 L829.8 274.6 L832.8 275.3 L835.9 275.3 L838.9 275.5 L841.9 275.0 L844.9 275.7 L848.0 274.9 L851.0 275.6 L854.0 275.2 L857.0 275.3 L860.0 276.1 L863.0 274.7 L866.0 275.7 L869.0 274.8 L872.0 275.3 L875.0 275.0 L878.0 275.1 L881.0 275.5 L884.0 274.9 L887.0 274.4 L890.0 274.3 L893.0 274.2 L896.0 275.4 L899.0 275.0 L902.0 275.4 L905.0 275.0 L908.0 273.8 L911.0 274.8 L914.0 274.5 L917.2 274.5 L920.4 274.0 L923.6 273.2 L926.8 272.6 L930.0 272.3 L933.2 272.5 L936.4 271.2 L939.6 271.2 L942.8 270.7 L946.0 270.3 L949.1 271.0 L952.2 270.8 L955.2 271.0 L958.3 270.8 L961.4 270.0 L964.5 269.9 L967.6 270.3 L970.7 269.9 L973.8 270.2 L976.8 270.6 L979.9 271.0 L983.0 270.4 L986.1 270.8 L989.2 269.7 L992.2 270.1 L995.3 271.1 L998.4 269.7 L1001.5 270.2 L1004.6 269.6 L1007.7 269.6 L1010.8 270.9 L1013.8 271.1 L1016.9 270.5 L1020.0 270.3 L1023.1 269.7 L1026.2 270.0 L1029.3 269.9 L1032.4 270.7 L1035.5 270.7 L1038.6 270.4 L1041.7 270.5 L1044.8 269.9 L1047.9 270.6 L1051.1 271.3 L1054.2 271.0 L1057.3 270.0 L1060.4 270.7 L1063.5 271.0 L1066.6 270.3 L1069.7 271.4 L1072.8 270.7 L1075.9 271.1 L1079.0 270.8 L1082.2 270.6 L1085.3 271.5 L1088.5 271.1 L1091.6 270.8 L1094.8 270.0 L1097.9 270.5 L1101.1 269.8 L1104.2 270.6 L1107.4 271.1 L1110.5 269.9 L1113.7 270.4 L1116.8 270.3 L1120.0 270.3 L1123.1 270.2 L1126.2 270.7 L1129.2 271.1 L1132.3 270.8 L1135.4 270.5 L1138.5 271.3 L1141.6 270.3 L1144.7 271.1 L1147.8 271.0 L1150.8 271.2 L1153.9 271.4 L1157.0 270.4 L1160.1 271.1 L1163.2 270.8 L1166.2 271.3 L1169.3 271.8 L1172.4 271.3 L1175.5 270.3 L1178.6 271.1 L1181.7 271.6 L1184.8 271.9 L1187.8 271.5 L1190.9 271.9 L1194.0 271.4 L1197.1 270.5 L1200.2 271.9 L1203.4 271.4 L1206.5 271.1 L1209.6 271.4 L1212.7 271.3 L1215.8 269.9 L1218.9 270.9 L1222.1 270.7 L1225.2 269.7 L1228.3 270.4 L1231.4 270.1 L1234.5 269.3 L1237.6 270.2 L1240.8 269.0 L1243.9 269.6 L1247.0 269.3 L1250.1 269.3 L1253.1 269.2 L1256.2 269.8 L1259.2 269.7 L1262.3 269.4 L1265.4 270.8 L1268.4 269.5 L1271.5 269.5 L1274.5 270.4 L1277.6 271.1 L1280.6 270.9 L1283.7 271.2 L1286.8 270.9 L1289.8 271.3 L1292.9 270.9 L1295.9 270.9 L1299.0 271.4 L1302.0 271.7 L1305.0 271.2 L1308.0 271.5 L1311.0 272.9 L1314.0 272.2 L1317.0 273.0 L1325.0 278.8 L1333.0 268.0 L1336.0 267.7 L1339.0 267.1 L1342.0 266.0 L1345.1 265.8 L1348.1 266.2 L1351.2 266.3 L1354.2 266.3 L1357.3 265.1 L1360.4 265.1 L1363.4 265.4 L1366.5 265.5 L1369.5 265.1 L1372.6 264.6 L1375.6 265.4 L1378.7 266.0 L1381.8 265.0 L1384.8 265.2 L1387.9 264.9 L1390.9 265.0 L1394.0 265.0 L1397.7 266.6 L1401.3 266.7 L1405.0 268.0 L1411.0 272.4 L1418.0 268.5 L1421.2 268.7 L1424.3 268.4 L1427.5 268.4 L1430.7 269.0 L1433.8 267.6 L1437.0 268.2 L1440.0 268.7 L1443.0 267.8 L1446.0 268.3 L1449.0 268.5 L1452.0 268.2 L1455.0 267.7 L1458.0 268.4 L1461.0 267.2 L1464.0 268.0 L1467.0 267.5 L1470.0 267.7 L1473.0 268.2 L1476.0 268.1 L1479.0 267.7 L1482.0 267.2 L1485.0 267.0 L1488.0 267.3 L1491.0 266.9 L1494.0 266.9 L1497.0 268.0 L1500.0 267.2 L1503.1 266.6 L1506.2 267.8 L1509.4 267.2 L1512.5 267.2 L1515.6 267.2 L1518.7 266.9 L1521.8 267.5 L1524.9 267.1 L1528.1 267.6 L1531.2 267.5 L1534.3 268.5 L1537.4 268.6 L1540.5 267.9 L1543.6 268.2 L1546.8 268.8 L1549.9 267.9 L1553.0 268.2 L1556.3 269.0 L1559.7 270.6 L1563.0 272.4 L1574.0 281.0 L1584.0 302.0 L1590.0 309.0 L1600.0 302.3 L1603.3 301.4 L1606.7 301.7 L1610.0 300.7 L1613.3 300.3 L1616.7 300.5 L1620.0 299.6 L1623.2 299.1 L1626.3 299.9 L1629.5 299.5 L1632.6 299.0 L1635.8 299.6 L1638.9 298.7 L1642.1 299.5 L1645.2 299.4 L1648.4 298.6 L1651.5 298.8 L1654.7 299.1 L1657.8 298.7 L1661.0 298.2 L1664.1 297.9 L1667.2 297.3 L1670.3 296.7 L1673.4 295.7 L1676.5 295.3 L1679.5 293.4 L1682.6 293.2 L1685.7 292.6 L1688.8 291.4 L1691.9 290.7 L1695.0 290.1 L1698.1 289.0 L1701.2 289.7 L1704.3 288.2 L1707.4 287.8 L1710.5 288.0 L1713.5 286.3 L1716.6 287.0 L1719.7 285.1 L1722.8 284.4 L1725.9 284.3 L1729.0 284.0 L1732.2 283.3 L1735.5 283.7 L1738.8 283.1 L1742.0 282.0 L1750.0 283.4 L1757.0 299.6 L1764.0 288.8 L1772.0 284.7 L1775.0 285.0 L1778.0 284.4 L1781.0 284.5 L1784.0 283.9 L1787.0 284.8 L1790.0 284.0 L1793.0 283.7 L1796.0 284.0 L1799.0 284.2 L1802.0 283.4 L1805.0 283.6 L1808.0 284.5 L1811.0 283.2 L1814.0 283.2 L1817.0 283.3 L1820.0 283.3 L1823.0 283.6 L1826.0 283.3 L1829.0 283.4 L1832.0 283.2 L1835.0 283.2 L1838.0 283.7 L1841.0 283.2 L1844.0 283.3 L1847.0 283.9 L1850.0 283.4 L1853.5 284.4 L1857.0 286.2 L1860.5 289.0 L1864.0 290.1 L1877.0 298.2 L1891.0 311.7 L1900.0 330.0 L1907.0 364.0 L1917.0 386.0 L1927.0 411.6 L1938.0 435.4 L1955.0 456.5 L1966.0 476.0 L1978.0 502.5 L1990.0 533.0 L1996.0 556.0 L2003.0 590.0 L2008.0 612.0 L2014.0 635.0 L2024.0 666.0 L2030.0 680.0 L2034.0 685.0 L2038.0 680.0 L2044.0 666.0 L2052.5 633.0 L2055.8 600.0 L2057.6 564.0 L2063.7 518.0 L2068.0 482.0 L2072.0 470.0 L2081.0 443.0 L2093.8 433.0 L2106.5 414.0 L2119.3 382.0 L2131.3 362.3 L2141.2 355.6 L2152.8 368.9 L2166.1 397.0 L2172.7 441.4 L2176.0 463.0 L2186.0 441.4 L2196.0 415.0 L2202.6 403.7 L2208.0 406.0 L2212.0 440.0 L2213.5 468.0 L2216.0 430.0 L2219.2 384.0 L2230.8 365.6 L2240.7 378.8 L2243.8 379.8 L2246.8 381.5 L2249.8 381.6 L2252.9 383.3 L2255.9 384.9 L2259.0 385.5 L2275.5 370.5 L2278.6 369.1 L2281.7 368.6 L2284.8 367.2 L2287.8 365.6 L2290.9 365.4 L2294.0 363.3 L2297.1 362.3 L2305.4 375.5 L2310.3 400.4" fill="none" stroke="#91b562" stroke-width="8.5" stroke-linejoin="round" stroke-linecap="round"/>
<polygon points="2300.0,357.0 2306.0,362.0 2311.0,384.0 2315.6,398.0 2315.0,406.0 2309.0,406.0 2304.0,390.0 2298.0,372.0" fill="#91b562" stroke="#91b562" stroke-width="1.5" stroke-linejoin="round"/>
<path d="M165.0 416.1 L168.0 415.6 L171.1 416.1 L174.1 415.8 L177.2 416.1 L180.2 416.1 L183.2 415.2 L186.3 415.0 L189.3 416.3 L192.3 415.3 L195.4 415.3 L198.4 416.4 L201.5 415.5 L204.5 416.1 L207.5 415.5 L210.6 415.7 L213.6 414.9 L216.7 415.6 L219.7 415.9 L222.7 415.3 L225.8 415.6 L228.8 415.5 L231.8 414.5 L234.9 415.5 L237.9 415.2 L241.0 414.7 L244.0 415.0 L247.0 414.2 L250.0 415.6 L253.1 415.0 L256.1 415.4 L259.1 415.6 L262.1 415.3 L265.2 415.7 L268.2 414.8 L271.2 415.5 L274.2 414.9 L277.3 415.7 L280.3 415.6 L283.3 414.4 L286.3 414.4 L289.4 414.5 L292.4 415.7 L295.4 414.9 L298.4 415.2 L301.5 414.7 L304.5 415.0 L307.5 414.8 L310.5 414.8 L313.5 415.1 L316.6 415.1 L319.6 415.6 L322.6 415.3 L325.6 415.7 L328.7 415.6 L331.7 415.8 L334.7 415.3 L337.7 414.5 L340.8 415.6 L343.8 415.7 L346.8 415.6 L349.8 415.1 L352.9 415.3 L355.9 414.5 L358.9 415.5 L361.9 415.1 L365.0 414.7 L368.0 414.3 L371.0 415.0 L377.0 421.4 L380.0 422.0 L383.0 422.2 L386.0 420.7 L389.0 421.9 L392.0 421.3 L395.0 420.8 L398.0 421.1 L401.0 421.8 L404.0 422.0 L407.0 420.7 L410.0 421.6 L413.0 420.7 L416.0 421.7 L419.0 421.1 L422.0 422.0 L425.0 422.2 L428.0 421.4 L431.0 422.2 L434.0 421.4 L437.0 421.2 L440.1 420.9 L443.1 421.9 L446.1 421.1 L449.2 421.5 L452.2 421.9 L455.2 422.4 L458.3 421.7 L461.3 421.7 L464.4 423.1 L467.4 422.3 L470.4 423.5 L473.5 423.5 L476.5 422.8 L479.5 423.0 L482.6 423.2 L485.6 423.5 L488.6 423.5 L491.7 423.6 L494.7 423.8 L497.8 424.4 L500.8 423.8 L503.8 423.8 L506.9 424.4 L509.9 423.7 L512.9 424.0 L516.0 425.2 L519.0 424.5 L522.0 424.7 L525.0 425.0 L528.0 424.3 L531.0 425.2 L534.0 425.7 L537.0 425.0 L540.0 426.1 L543.0 426.3 L546.0 425.6 L549.0 426.8 L552.0 426.7 L555.0 427.2 L558.0 426.9 L561.0 427.7 L564.0 428.0 L567.0 427.0 L570.0 427.3 L573.0 428.5 L576.0 429.1 L579.0 428.2 L582.0 428.8 L585.1 428.8 L588.1 429.2 L591.2 428.8 L594.2 429.0 L597.3 429.1 L600.3 429.3 L603.4 429.7 L606.4 429.4 L609.5 429.6 L612.5 430.3 L615.6 429.3 L618.6 430.2 L621.7 430.6 L624.7 430.0 L627.8 430.0 L630.8 431.1 L633.9 430.3 L636.9 430.3 L640.0 430.9 L643.0 430.7 L646.0 431.1 L649.0 430.1 L652.0 430.4 L655.0 430.3 L658.0 431.1 L661.0 430.4 L664.0 431.0 L667.0 429.8 L670.0 430.0 L673.0 430.5 L676.0 430.8 L679.0 430.0 L682.0 429.6 L685.0 429.4 L688.0 430.0 L691.0 429.4 L694.0 430.3 L697.0 430.3 L700.0 429.2 L703.0 429.3 L706.0 430.1 L709.0 429.7 L712.0 430.0 L715.0 429.2 L718.0 428.7 L721.0 428.9 L724.0 429.7 L727.0 428.8 L730.0 428.9 L733.0 428.9 L736.0 428.9 L739.0 428.8 L742.0 429.5 L745.0 428.8 L748.1 428.1 L751.1 427.7 L754.2 429.1 L757.3 428.8 L760.4 428.8 L763.4 427.8 L766.5 428.5 L769.6 428.3 L772.6 427.0 L775.7 427.7 L778.8 427.7 L781.9 427.3 L784.9 426.9 L788.0 426.7 L791.0 426.6 L794.0 426.8 L797.0 426.8 L800.0 426.8 L803.0 427.8 L806.0 427.5 L809.0 428.5 L812.0 427.5 L815.0 429.0 L818.0 428.9 L821.0 429.5 L824.0 429.6 L827.0 429.8 L830.0 429.5 L833.0 428.8 L836.0 430.1 L839.0 429.4 L842.0 429.8 L845.0 430.6 L848.0 430.5 L851.0 430.5 L854.0 431.6 L857.0 431.2 L860.0 431.0 L863.0 431.0 L866.0 432.2 L869.0 431.8 L872.0 432.0 L875.0 431.8 L878.0 430.5 L881.0 429.7 L884.0 429.6 L887.0 429.5 L890.0 427.8 L893.0 428.2 L896.0 427.8 L899.0 427.0 L902.0 426.4 L905.0 424.5 L908.0 424.9 L911.0 424.7 L914.0 423.5 L917.0 422.6 L920.1 422.8 L923.1 422.6 L926.1 422.8 L929.2 422.4 L932.2 422.3 L935.2 422.6 L938.3 421.2 L941.3 421.1 L944.4 421.0 L947.4 420.8 L950.4 420.5 L953.5 421.8 L956.5 421.4 L959.5 420.0 L962.6 420.5 L965.6 420.0 L968.6 419.8 L971.7 419.7 L974.7 419.9 L977.8 419.7 L980.8 419.1 L983.8 418.7 L986.9 418.7 L989.9 418.2 L992.9 418.7 L996.0 418.7 L999.0 418.2 L1002.0 418.0 L1005.0 417.4 L1008.1 417.5 L1011.1 417.8 L1014.1 418.1 L1017.1 418.3 L1020.2 417.6 L1023.2 418.3 L1026.2 417.9 L1029.2 417.6 L1032.3 417.4 L1035.3 417.6 L1038.3 417.8 L1041.3 417.3 L1044.4 417.7 L1047.4 417.3 L1050.4 416.9 L1053.5 417.3 L1056.5 417.5 L1059.5 416.5 L1062.5 417.0 L1065.5 416.9 L1068.6 417.6 L1071.6 417.6 L1074.6 416.7 L1077.7 417.5 L1080.7 417.2 L1083.7 416.3 L1086.7 416.6 L1089.8 416.0 L1092.8 417.1 L1095.8 416.8 L1098.8 417.1 L1101.8 416.9 L1104.9 416.6 L1107.9 416.7 L1110.9 416.4 L1114.0 415.6 L1117.0 416.3 L1120.0 416.1 L1123.0 415.4 L1126.0 415.7 L1129.0 416.8 L1132.0 415.7 L1135.0 415.8 L1138.0 415.9 L1141.0 417.2 L1144.0 416.2 L1147.0 416.0 L1150.0 417.4 L1153.0 416.3 L1156.0 417.6 L1159.0 417.4 L1162.0 417.7 L1165.0 417.9 L1168.0 417.4 L1171.0 417.9 L1174.0 416.7 L1177.0 418.0 L1180.0 417.6 L1183.0 418.0 L1186.0 417.1 L1189.0 418.2 L1192.0 418.6 L1195.0 417.3 L1198.0 417.8 L1201.0 418.2 L1204.0 418.2 L1207.0 418.6 L1210.1 417.6 L1213.1 417.5 L1216.1 417.5 L1219.2 418.0 L1222.2 418.2 L1225.2 417.5 L1228.3 417.4 L1231.3 417.4 L1234.4 417.2 L1237.4 417.2 L1240.4 416.6 L1243.5 417.2 L1246.5 417.9 L1249.5 416.9 L1252.6 417.4 L1255.6 416.4 L1258.6 417.2 L1261.7 417.2 L1264.7 417.0 L1267.8 416.7 L1270.8 416.5 L1273.8 416.7 L1276.9 417.0 L1279.9 415.8 L1282.9 415.6 L1286.0 416.6 L1289.0 416.1 L1292.0 416.9 L1295.0 416.4 L1298.0 416.5 L1301.0 417.1 L1304.0 416.3 L1307.0 416.6 L1310.0 416.7 L1313.0 417.4 L1316.0 417.2 L1319.0 417.2 L1322.0 418.1 L1325.0 418.6 L1328.0 417.7 L1331.0 418.2 L1334.0 418.5 L1337.1 418.1 L1340.1 418.8 L1343.1 418.3 L1346.1 417.8 L1349.2 417.7 L1352.2 417.4 L1355.2 418.2 L1358.3 418.0 L1361.3 417.7 L1364.3 418.0 L1367.3 417.9 L1370.4 418.6 L1373.4 417.6 L1376.4 419.0 L1379.5 418.2 L1382.5 418.4 L1385.5 418.1 L1388.5 418.7 L1391.6 418.7 L1394.6 418.3 L1397.6 418.2 L1400.7 418.6 L1403.7 418.8 L1406.7 418.0 L1409.7 418.6 L1412.8 418.9 L1415.8 418.1 L1418.8 417.8 L1421.9 417.8 L1424.9 418.5 L1427.9 418.5 L1430.9 418.9 L1434.0 418.8 L1437.0 418.2 L1440.0 417.7 L1443.0 417.6 L1446.0 417.6 L1449.0 417.5 L1452.0 418.2 L1455.0 418.4 L1458.0 418.4 L1461.0 417.3 L1464.0 418.2 L1467.0 417.3 L1470.0 417.4 L1473.0 417.8 L1476.0 416.8 L1479.0 416.7 L1482.0 417.8 L1485.0 416.9 L1488.0 417.0 L1491.0 417.2 L1494.0 417.3 L1497.0 416.2 L1500.0 416.7 L1503.0 416.8 L1506.0 416.8 L1509.0 416.3 L1512.0 416.8 L1515.0 417.4 L1518.0 416.4 L1521.0 416.6 L1524.0 415.9 L1527.0 416.0 L1530.0 416.6 L1533.0 415.7 L1536.0 416.8 L1539.0 416.8 L1542.0 416.1 L1545.0 415.5 L1548.0 416.8 L1551.0 415.9 L1554.0 416.6 L1557.0 416.6 L1560.0 415.9 L1563.0 416.5 L1566.0 416.5 L1569.0 416.7 L1572.0 415.9 L1575.0 416.7 L1578.0 417.0 L1581.0 416.6 L1584.0 416.4 L1587.0 415.7 L1590.0 416.3 L1593.0 416.1 L1596.0 416.7 L1599.0 416.7 L1602.0 416.5 L1605.0 415.9 L1608.0 416.7 L1611.0 416.7 L1614.0 416.0 L1617.0 417.1 L1620.0 416.5 L1623.2 417.0 L1626.3 416.3 L1629.5 417.8 L1632.6 416.8 L1635.8 417.3 L1638.9 418.1 L1642.1 418.2 L1645.2 418.3 L1648.4 418.7 L1651.5 418.6 L1654.7 418.6 L1657.8 418.6 L1661.0 419.3 L1664.0 418.5 L1667.0 419.5 L1670.0 419.5 L1673.0 419.1 L1676.0 419.3 L1679.0 418.6 L1682.0 418.4 L1685.0 418.5 L1688.0 419.2 L1691.0 417.8 L1694.0 418.5 L1697.0 418.0 L1700.0 418.8 L1703.0 418.1 L1706.0 417.9 L1709.0 418.0 L1712.0 418.1 L1715.0 418.0 L1718.2 418.6 L1721.3 418.2 L1724.5 419.2 L1727.6 418.2 L1730.8 418.7 L1733.9 418.6 L1737.1 418.8 L1740.2 420.1 L1743.4 420.2 L1746.5 419.6 L1749.7 419.8 L1752.8 420.4 L1756.0 420.7 L1759.2 422.8 L1762.5 424.6 L1765.8 426.1 L1769.0 427.4 L1772.5 425.5 L1776.0 422.8 L1779.5 421.2 L1783.0 419.3 L1786.0 418.7 L1789.1 419.2 L1792.1 419.1 L1795.2 418.5 L1798.2 418.4 L1801.3 419.2 L1804.3 417.9 L1807.4 419.1 L1810.4 419.1 L1813.5 419.1 L1816.5 418.1 L1819.5 418.3 L1822.6 418.3 L1825.6 418.2 L1828.7 418.7 L1831.7 418.1 L1834.8 417.4 L1837.8 418.2 L1840.9 417.5 L1843.9 417.6 L1847.0 417.8 L1850.0 417.3 L1853.3 417.1 L1856.7 418.9 L1860.0 419.3 L1863.3 419.6 L1866.7 420.2 L1870.0 420.7 L1873.5 422.7 L1877.0 424.3 L1880.5 426.8 L1884.0 428.8 L1895.0 442.3 L1900.0 456.0 L1904.2 476.0 L1910.6 502.5 L1923.0 533.0 L1932.0 556.0 L1946.0 571.3 L1956.5 583.6 L1962.0 598.0 L1967.0 609.6 L1979.5 641.5 L1989.5 674.6 L1999.4 725.0 L2006.4 774.8 L2012.0 805.0 L2017.7 828.0 L2022.0 840.0 L2027.0 847.1 L2033.0 847.0 L2039.2 840.5 L2045.9 815.6 L2050.8 765.9 L2054.2 716.1 L2058.0 660.0 L2061.0 615.0 L2063.5 590.0 L2066.7 571.3 L2069.8 569.4 L2072.8 569.0 L2075.9 568.1 L2079.0 566.7 L2084.0 565.0 L2093.2 552.5 L2100.0 537.0 L2109.7 516.0 L2118.0 495.0 L2126.3 482.9 L2137.9 469.6 L2149.5 486.2 L2166.1 519.4 L2182.7 537.6 L2195.9 516.0 L2205.9 492.8 L2210.1 491.1 L2214.2 489.5 L2225.8 474.6 L2229.1 473.1 L2232.4 472.0 L2235.7 470.3 L2239.0 468.0 L2242.3 467.7 L2245.6 469.0 L2248.9 469.0 L2252.3 468.3 L2255.6 469.1 L2258.9 469.6 L2262.2 470.0 L2265.5 470.6 L2268.9 472.2 L2272.2 473.6 L2275.5 473.5 L2278.8 474.6 L2295.4 486.2 L2308.7 499.5 L2310.3 516.0" fill="none" stroke="#c24e4c" stroke-opacity="0.35" stroke-width="13.5" stroke-linejoin="round" stroke-linecap="round"/>
<path d="M165.0 416.1 L168.0 415.6 L171.1 416.1 L174.1 415.8 L177.2 416.1 L180.2 416.1 L183.2 415.2 L186.3 415.0 L189.3 416.3 L192.3 415.3 L195.4 415.3 L198.4 416.4 L201.5 415.5 L204.5 416.1 L207.5 415.5 L210.6 415.7 L213.6 414.9 L216.7 415.6 L219.7 415.9 L222.7 415.3 L225.8 415.6 L228.8 415.5 L231.8 414.5 L234.9 415.5 L237.9 415.2 L241.0 414.7 L244.0 415.0 L247.0 414.2 L250.0 415.6 L253.1 415.0 L256.1 415.4 L259.1 415.6 L262.1 415.3 L265.2 415.7 L268.2 414.8 L271.2 415.5 L274.2 414.9 L277.3 415.7 L280.3 415.6 L283.3 414.4 L286.3 414.4 L289.4 414.5 L292.4 415.7 L295.4 414.9 L298.4 415.2 L301.5 414.7 L304.5 415.0 L307.5 414.8 L310.5 414.8 L313.5 415.1 L316.6 415.1 L319.6 415.6 L322.6 415.3 L325.6 415.7 L328.7 415.6 L331.7 415.8 L334.7 415.3 L337.7 414.5 L340.8 415.6 L343.8 415.7 L346.8 415.6 L349.8 415.1 L352.9 415.3 L355.9 414.5 L358.9 415.5 L361.9 415.1 L365.0 414.7 L368.0 414.3 L371.0 415.0 L377.0 421.4 L380.0 422.0 L383.0 422.2 L386.0 420.7 L389.0 421.9 L392.0 421.3 L395.0 420.8 L398.0 421.1 L401.0 421.8 L404.0 422.0 L407.0 420.7 L410.0 421.6 L413.0 420.7 L416.0 421.7 L419.0 421.1 L422.0 422.0 L425.0 422.2 L428.0 421.4 L431.0 422.2 L434.0 421.4 L437.0 421.2 L440.1 420.9 L443.1 421.9 L446.1 421.1 L449.2 421.5 L452.2 421.9 L455.2 422.4 L458.3 421.7 L461.3 421.7 L464.4 423.1 L467.4 422.3 L470.4 423.5 L473.5 423.5 L476.5 422.8 L479.5 423.0 L482.6 423.2 L485.6 423.5 L488.6 423.5 L491.7 423.6 L494.7 423.8 L497.8 424.4 L500.8 423.8 L503.8 423.8 L506.9 424.4 L509.9 423.7 L512.9 424.0 L516.0 425.2 L519.0 424.5 L522.0 424.7 L525.0 425.0 L528.0 424.3 L531.0 425.2 L534.0 425.7 L537.0 425.0 L540.0 426.1 L543.0 426.3 L546.0 425.6 L549.0 426.8 L552.0 426.7 L555.0 427.2 L558.0 426.9 L561.0 427.7 L564.0 428.0 L567.0 427.0 L570.0 427.3 L573.0 428.5 L576.0 429.1 L579.0 428.2 L582.0 428.8 L585.1 428.8 L588.1 429.2 L591.2 428.8 L594.2 429.0 L597.3 429.1 L600.3 429.3 L603.4 429.7 L606.4 429.4 L609.5 429.6 L612.5 430.3 L615.6 429.3 L618.6 430.2 L621.7 430.6 L624.7 430.0 L627.8 430.0 L630.8 431.1 L633.9 430.3 L636.9 430.3 L640.0 430.9 L643.0 430.7 L646.0 431.1 L649.0 430.1 L652.0 430.4 L655.0 430.3 L658.0 431.1 L661.0 430.4 L664.0 431.0 L667.0 429.8 L670.0 430.0 L673.0 430.5 L676.0 430.8 L679.0 430.0 L682.0 429.6 L685.0 429.4 L688.0 430.0 L691.0 429.4 L694.0 430.3 L697.0 430.3 L700.0 429.2 L703.0 429.3 L706.0 430.1 L709.0 429.7 L712.0 430.0 L715.0 429.2 L718.0 428.7 L721.0 428.9 L724.0 429.7 L727.0 428.8 L730.0 428.9 L733.0 428.9 L736.0 428.9 L739.0 428.8 L742.0 429.5 L745.0 428.8 L748.1 428.1 L751.1 427.7 L754.2 429.1 L757.3 428.8 L760.4 428.8 L763.4 427.8 L766.5 428.5 L769.6 428.3 L772.6 427.0 L775.7 427.7 L778.8 427.7 L781.9 427.3 L784.9 426.9 L788.0 426.7 L791.0 426.6 L794.0 426.8 L797.0 426.8 L800.0 426.8 L803.0 427.8 L806.0 427.5 L809.0 428.5 L812.0 427.5 L815.0 429.0 L818.0 428.9 L821.0 429.5 L824.0 429.6 L827.0 429.8 L830.0 429.5 L833.0 428.8 L836.0 430.1 L839.0 429.4 L842.0 429.8 L845.0 430.6 L848.0 430.5 L851.0 430.5 L854.0 431.6 L857.0 431.2 L860.0 431.0 L863.0 431.0 L866.0 432.2 L869.0 431.8 L872.0 432.0 L875.0 431.8 L878.0 430.5 L881.0 429.7 L884.0 429.6 L887.0 429.5 L890.0 427.8 L893.0 428.2 L896.0 427.8 L899.0 427.0 L902.0 426.4 L905.0 424.5 L908.0 424.9 L911.0 424.7 L914.0 423.5 L917.0 422.6 L920.1 422.8 L923.1 422.6 L926.1 422.8 L929.2 422.4 L932.2 422.3 L935.2 422.6 L938.3 421.2 L941.3 421.1 L944.4 421.0 L947.4 420.8 L950.4 420.5 L953.5 421.8 L956.5 421.4 L959.5 420.0 L962.6 420.5 L965.6 420.0 L968.6 419.8 L971.7 419.7 L974.7 419.9 L977.8 419.7 L980.8 419.1 L983.8 418.7 L986.9 418.7 L989.9 418.2 L992.9 418.7 L996.0 418.7 L999.0 418.2 L1002.0 418.0 L1005.0 417.4 L1008.1 417.5 L1011.1 417.8 L1014.1 418.1 L1017.1 418.3 L1020.2 417.6 L1023.2 418.3 L1026.2 417.9 L1029.2 417.6 L1032.3 417.4 L1035.3 417.6 L1038.3 417.8 L1041.3 417.3 L1044.4 417.7 L1047.4 417.3 L1050.4 416.9 L1053.5 417.3 L1056.5 417.5 L1059.5 416.5 L1062.5 417.0 L1065.5 416.9 L1068.6 417.6 L1071.6 417.6 L1074.6 416.7 L1077.7 417.5 L1080.7 417.2 L1083.7 416.3 L1086.7 416.6 L1089.8 416.0 L1092.8 417.1 L1095.8 416.8 L1098.8 417.1 L1101.8 416.9 L1104.9 416.6 L1107.9 416.7 L1110.9 416.4 L1114.0 415.6 L1117.0 416.3 L1120.0 416.1 L1123.0 415.4 L1126.0 415.7 L1129.0 416.8 L1132.0 415.7 L1135.0 415.8 L1138.0 415.9 L1141.0 417.2 L1144.0 416.2 L1147.0 416.0 L1150.0 417.4 L1153.0 416.3 L1156.0 417.6 L1159.0 417.4 L1162.0 417.7 L1165.0 417.9 L1168.0 417.4 L1171.0 417.9 L1174.0 416.7 L1177.0 418.0 L1180.0 417.6 L1183.0 418.0 L1186.0 417.1 L1189.0 418.2 L1192.0 418.6 L1195.0 417.3 L1198.0 417.8 L1201.0 418.2 L1204.0 418.2 L1207.0 418.6 L1210.1 417.6 L1213.1 417.5 L1216.1 417.5 L1219.2 418.0 L1222.2 418.2 L1225.2 417.5 L1228.3 417.4 L1231.3 417.4 L1234.4 417.2 L1237.4 417.2 L1240.4 416.6 L1243.5 417.2 L1246.5 417.9 L1249.5 416.9 L1252.6 417.4 L1255.6 416.4 L1258.6 417.2 L1261.7 417.2 L1264.7 417.0 L1267.8 416.7 L1270.8 416.5 L1273.8 416.7 L1276.9 417.0 L1279.9 415.8 L1282.9 415.6 L1286.0 416.6 L1289.0 416.1 L1292.0 416.9 L1295.0 416.4 L1298.0 416.5 L1301.0 417.1 L1304.0 416.3 L1307.0 416.6 L1310.0 416.7 L1313.0 417.4 L1316.0 417.2 L1319.0 417.2 L1322.0 418.1 L1325.0 418.6 L1328.0 417.7 L1331.0 418.2 L1334.0 418.5 L1337.1 418.1 L1340.1 418.8 L1343.1 418.3 L1346.1 417.8 L1349.2 417.7 L1352.2 417.4 L1355.2 418.2 L1358.3 418.0 L1361.3 417.7 L1364.3 418.0 L1367.3 417.9 L1370.4 418.6 L1373.4 417.6 L1376.4 419.0 L1379.5 418.2 L1382.5 418.4 L1385.5 418.1 L1388.5 418.7 L1391.6 418.7 L1394.6 418.3 L1397.6 418.2 L1400.7 418.6 L1403.7 418.8 L1406.7 418.0 L1409.7 418.6 L1412.8 418.9 L1415.8 418.1 L1418.8 417.8 L1421.9 417.8 L1424.9 418.5 L1427.9 418.5 L1430.9 418.9 L1434.0 418.8 L1437.0 418.2 L1440.0 417.7 L1443.0 417.6 L1446.0 417.6 L1449.0 417.5 L1452.0 418.2 L1455.0 418.4 L1458.0 418.4 L1461.0 417.3 L1464.0 418.2 L1467.0 417.3 L1470.0 417.4 L1473.0 417.8 L1476.0 416.8 L1479.0 416.7 L1482.0 417.8 L1485.0 416.9 L1488.0 417.0 L1491.0 417.2 L1494.0 417.3 L1497.0 416.2 L1500.0 416.7 L1503.0 416.8 L1506.0 416.8 L1509.0 416.3 L1512.0 416.8 L1515.0 417.4 L1518.0 416.4 L1521.0 416.6 L1524.0 415.9 L1527.0 416.0 L1530.0 416.6 L1533.0 415.7 L1536.0 416.8 L1539.0 416.8 L1542.0 416.1 L1545.0 415.5 L1548.0 416.8 L1551.0 415.9 L1554.0 416.6 L1557.0 416.6 L1560.0 415.9 L1563.0 416.5 L1566.0 416.5 L1569.0 416.7 L1572.0 415.9 L1575.0 416.7 L1578.0 417.0 L1581.0 416.6 L1584.0 416.4 L1587.0 415.7 L1590.0 416.3 L1593.0 416.1 L1596.0 416.7 L1599.0 416.7 L1602.0 416.5 L1605.0 415.9 L1608.0 416.7 L1611.0 416.7 L1614.0 416.0 L1617.0 417.1 L1620.0 416.5 L1623.2 417.0 L1626.3 416.3 L1629.5 417.8 L1632.6 416.8 L1635.8 417.3 L1638.9 418.1 L1642.1 418.2 L1645.2 418.3 L1648.4 418.7 L1651.5 418.6 L1654.7 418.6 L1657.8 418.6 L1661.0 419.3 L1664.0 418.5 L1667.0 419.5 L1670.0 419.5 L1673.0 419.1 L1676.0 419.3 L1679.0 418.6 L1682.0 418.4 L1685.0 418.5 L1688.0 419.2 L1691.0 417.8 L1694.0 418.5 L1697.0 418.0 L1700.0 418.8 L1703.0 418.1 L1706.0 417.9 L1709.0 418.0 L1712.0 418.1 L1715.0 418.0 L1718.2 418.6 L1721.3 418.2 L1724.5 419.2 L1727.6 418.2 L1730.8 418.7 L1733.9 418.6 L1737.1 418.8 L1740.2 420.1 L1743.4 420.2 L1746.5 419.6 L1749.7 419.8 L1752.8 420.4 L1756.0 420.7 L1759.2 422.8 L1762.5 424.6 L1765.8 426.1 L1769.0 427.4 L1772.5 425.5 L1776.0 422.8 L1779.5 421.2 L1783.0 419.3 L1786.0 418.7 L1789.1 419.2 L1792.1 419.1 L1795.2 418.5 L1798.2 418.4 L1801.3 419.2 L1804.3 417.9 L1807.4 419.1 L1810.4 419.1 L1813.5 419.1 L1816.5 418.1 L1819.5 418.3 L1822.6 418.3 L1825.6 418.2 L1828.7 418.7 L1831.7 418.1 L1834.8 417.4 L1837.8 418.2 L1840.9 417.5 L1843.9 417.6 L1847.0 417.8 L1850.0 417.3 L1853.3 417.1 L1856.7 418.9 L1860.0 419.3 L1863.3 419.6 L1866.7 420.2 L1870.0 420.7 L1873.5 422.7 L1877.0 424.3 L1880.5 426.8 L1884.0 428.8 L1895.0 442.3 L1900.0 456.0 L1904.2 476.0 L1910.6 502.5 L1923.0 533.0 L1932.0 556.0 L1946.0 571.3 L1956.5 583.6 L1962.0 598.0 L1967.0 609.6 L1979.5 641.5 L1989.5 674.6 L1999.4 725.0 L2006.4 774.8 L2012.0 805.0 L2017.7 828.0 L2022.0 840.0 L2027.0 847.1 L2033.0 847.0 L2039.2 840.5 L2045.9 815.6 L2050.8 765.9 L2054.2 716.1 L2058.0 660.0 L2061.0 615.0 L2063.5 590.0 L2066.7 571.3 L2069.8 569.4 L2072.8 569.0 L2075.9 568.1 L2079.0 566.7 L2084.0 565.0 L2093.2 552.5 L2100.0 537.0 L2109.7 516.0 L2118.0 495.0 L2126.3 482.9 L2137.9 469.6 L2149.5 486.2 L2166.1 519.4 L2182.7 537.6 L2195.9 516.0 L2205.9 492.8 L2210.1 491.1 L2214.2 489.5 L2225.8 474.6 L2229.1 473.1 L2232.4 472.0 L2235.7 470.3 L2239.0 468.0 L2242.3 467.7 L2245.6 469.0 L2248.9 469.0 L2252.3 468.3 L2255.6 469.1 L2258.9 469.6 L2262.2 470.0 L2265.5 470.6 L2268.9 472.2 L2272.2 473.6 L2275.5 473.5 L2278.8 474.6 L2295.4 486.2 L2308.7 499.5 L2310.3 516.0" fill="none" stroke="#c24e4c" stroke-width="9.5" stroke-linejoin="round" stroke-linecap="round"/>
<polygon points="2287.0,478.0 2299.0,483.0 2309.0,487.0 2315.0,495.0 2316.0,519.0 2310.0,523.0 2303.0,519.0 2296.0,506.0 2289.0,494.0" fill="#c24e4c" stroke="#c24e4c" stroke-width="1.5" stroke-linejoin="round"/>
<path d="M170.0 625.0 L173.1 624.6 L176.2 624.4 L179.3 624.8 L182.4 624.4 L185.5 624.3 L188.6 624.8 L191.7 625.7 L194.8 625.5 L197.9 625.4 L201.0 624.6 L204.1 625.1 L207.2 624.6 L210.3 624.5 L213.4 624.4 L216.5 624.5 L219.6 625.7 L222.7 625.5 L225.8 625.5 L228.9 625.5 L232.0 625.0 L235.1 624.7 L238.1 625.0 L241.2 625.6 L244.3 625.9 L247.4 626.3 L250.4 626.5 L253.5 625.3 L256.6 626.3 L259.6 626.6 L262.7 626.4 L265.8 626.1 L268.9 626.7 L271.9 626.2 L275.0 627.0 L278.1 627.6 L281.2 627.4 L284.3 626.7 L287.4 626.2 L290.6 627.1 L293.7 626.4 L296.8 626.8 L299.9 626.7 L303.0 626.0 L306.1 625.9 L309.1 625.7 L312.2 625.9 L315.2 625.6 L318.3 625.1 L321.3 625.2 L324.4 625.9 L327.4 624.6 L330.5 624.6 L333.5 625.4 L336.6 624.8 L339.6 625.1 L342.7 624.9 L345.7 624.6 L348.8 625.6 L351.8 624.2 L354.9 624.5 L357.9 624.1 L361.0 624.5 L364.7 625.4 L368.3 625.5 L372.0 626.5 L375.1 627.1 L378.2 628.5 L381.4 628.7 L384.5 629.8 L387.6 631.2 L390.8 630.7 L393.9 631.5 L397.0 633.0 L400.0 632.8 L403.0 633.8 L406.0 633.8 L409.0 633.4 L412.0 633.7 L415.0 633.7 L418.0 634.4 L421.2 634.3 L424.4 633.5 L427.7 634.5 L430.9 634.7 L434.1 634.7 L437.3 634.3 L440.6 634.6 L443.8 633.0 L447.0 633.7 L450.2 633.5 L453.4 634.8 L456.7 634.6 L459.9 634.2 L463.1 635.2 L466.3 634.9 L469.6 635.4 L472.8 634.7 L476.0 635.2 L479.0 634.4 L482.0 634.6 L485.0 633.8 L488.0 633.9 L491.0 634.6 L494.0 633.3 L497.0 632.5 L500.0 633.0 L503.3 631.3 L506.7 630.5 L510.0 630.5 L513.3 628.8 L516.7 627.7 L520.0 627.0 L523.1 626.2 L526.1 627.5 L529.2 626.4 L532.2 625.9 L535.3 625.5 L538.3 625.4 L541.4 625.4 L544.4 626.1 L547.5 625.1 L550.6 624.8 L553.6 625.3 L556.7 624.8 L559.7 625.8 L562.8 624.3 L565.8 624.8 L568.9 625.0 L571.9 624.3 L575.0 624.3 L578.0 625.1 L581.1 624.3 L584.1 623.9 L587.2 624.2 L590.2 623.6 L593.3 624.2 L596.3 623.9 L599.4 624.9 L602.4 624.8 L605.5 624.3 L608.5 623.6 L611.5 623.9 L614.6 623.9 L617.6 623.8 L620.7 623.9 L623.7 624.9 L626.8 623.7 L629.8 623.6 L632.9 625.0 L635.9 624.4 L639.0 625.1 L642.0 624.3 L645.1 624.2 L648.2 625.0 L651.3 624.6 L654.4 624.9 L657.5 624.9 L660.5 624.5 L663.6 623.9 L666.7 624.1 L669.8 625.2 L672.9 625.3 L676.0 625.3 L679.1 624.4 L682.2 625.0 L685.3 625.2 L688.4 625.0 L691.5 625.3 L694.5 624.9 L697.6 625.1 L700.7 625.2 L703.8 624.6 L706.9 625.6 L710.0 625.0 L713.1 626.0 L716.2 624.8 L719.2 626.5 L722.3 626.8 L725.4 626.6 L728.5 625.8 L731.5 627.5 L734.6 626.5 L737.7 628.1 L740.8 627.9 L743.8 627.2 L746.9 627.6 L750.0 628.4 L753.1 628.8 L756.2 628.9 L759.3 629.3 L762.4 629.8 L765.5 628.9 L768.5 628.7 L771.6 630.3 L774.7 629.1 L777.8 630.6 L780.9 629.6 L784.0 630.4 L793.4 636.5 L799.5 653.6 L806.6 676.5 L809.7 675.3 L812.9 673.6 L816.0 671.4 L822.5 681.6 L831.4 705.9 L840.4 726.3 L844.2 728.6 L848.0 729.8 L851.8 731.4 L862.0 753.0 L872.9 776.0 L881.2 759.4 L888.8 727.6 L895.2 709.7 L901.6 707.1 L909.2 719.9 L915.6 702.0 L920.7 671.4 L925.8 656.1 L938.6 645.9 L941.8 645.6 L945.0 643.5 L948.1 643.3 L951.3 642.1 L954.8 641.8 L958.2 642.8 L961.6 642.6 L965.1 642.1 L968.5 642.2 L972.0 642.2 L975.0 639.9 L978.0 638.5 L981.0 637.9 L984.0 636.2 L987.0 635.3 L990.0 633.4 L993.0 631.7 L996.1 631.0 L999.2 631.3 L1002.2 631.9 L1005.3 631.4 L1008.4 630.5 L1011.5 631.7 L1014.6 631.6 L1017.7 630.3 L1020.8 630.9 L1023.8 630.6 L1026.9 631.2 L1030.0 630.3 L1033.1 630.1 L1036.2 630.4 L1039.2 631.1 L1042.3 629.6 L1045.4 629.5 L1048.5 630.2 L1051.6 630.6 L1054.7 629.9 L1057.8 629.7 L1060.8 630.3 L1063.9 630.0 L1067.0 629.5 L1070.0 628.7 L1073.0 630.0 L1076.0 628.8 L1079.0 628.9 L1082.0 629.7 L1085.0 628.9 L1088.0 629.5 L1091.0 628.4 L1094.0 629.4 L1097.0 628.2 L1100.0 628.1 L1103.0 628.6 L1106.0 628.3 L1109.0 628.5 L1112.0 629.0 L1115.0 628.6 L1118.0 627.4 L1121.0 627.8 L1124.0 628.1 L1127.0 628.0 L1130.0 628.3 L1133.0 627.8 L1136.0 627.1 L1139.0 627.3 L1142.0 628.2 L1145.0 627.3 L1148.0 627.9 L1151.0 627.4 L1154.0 628.1 L1157.0 627.5 L1160.0 627.5 L1163.0 627.4 L1166.0 626.9 L1169.0 627.8 L1172.0 627.0 L1175.0 627.7 L1178.0 626.7 L1181.0 627.5 L1184.0 627.3 L1187.0 627.0 L1190.0 626.7 L1193.0 626.2 L1196.0 627.1 L1199.0 626.4 L1202.0 626.8 L1205.0 626.0 L1208.0 625.8 L1211.0 625.9 L1214.0 626.4 L1217.0 626.8 L1220.1 625.8 L1223.1 626.9 L1226.2 626.0 L1229.2 626.3 L1232.3 625.8 L1235.3 626.2 L1238.4 625.3 L1241.4 625.8 L1244.5 626.6 L1247.5 625.3 L1250.6 626.0 L1253.6 625.4 L1256.7 625.3 L1259.7 624.9 L1262.8 624.8 L1265.8 626.2 L1268.9 626.0 L1271.9 625.9 L1275.0 625.8 L1278.0 625.3 L1281.0 626.1 L1284.0 624.8 L1287.0 625.6 L1290.0 625.4 L1293.0 625.6 L1296.0 626.2 L1299.0 626.0 L1302.0 626.4 L1305.0 625.0 L1308.0 625.9 L1311.0 626.0 L1314.0 626.2 L1317.0 626.0 L1320.0 626.4 L1323.0 625.6 L1326.0 626.6 L1329.0 625.8 L1332.0 626.2 L1335.0 626.7 L1338.0 626.4 L1341.0 625.8 L1344.0 625.7 L1347.0 625.9 L1350.0 626.4 L1353.0 627.1 L1356.0 627.0 L1359.0 626.2 L1362.0 626.4 L1365.0 626.2 L1368.0 626.8 L1371.0 625.9 L1374.0 626.1 L1377.0 625.4 L1380.0 625.6 L1383.0 626.2 L1386.0 626.4 L1389.0 626.2 L1392.0 625.8 L1395.0 626.7 L1398.0 626.1 L1401.0 625.3 L1404.0 625.1 L1407.0 626.5 L1410.0 626.5 L1413.0 626.4 L1416.0 625.8 L1419.0 625.3 L1422.0 624.9 L1425.0 625.1 L1428.0 625.0 L1431.0 626.1 L1434.0 626.0 L1437.0 625.8 L1440.0 625.3 L1443.1 624.9 L1446.1 625.1 L1449.2 625.3 L1452.2 626.5 L1455.3 625.3 L1458.4 626.5 L1461.4 626.4 L1464.5 626.3 L1467.5 627.1 L1470.6 626.1 L1473.6 626.6 L1476.7 626.2 L1479.8 626.2 L1482.8 626.2 L1485.9 626.8 L1488.9 626.6 L1492.0 627.3 L1495.1 626.6 L1498.2 628.1 L1501.3 627.0 L1504.3 627.9 L1507.4 627.6 L1510.5 627.7 L1513.6 627.5 L1516.7 628.0 L1519.8 627.9 L1522.9 627.7 L1526.0 627.4 L1529.0 627.6 L1532.1 627.7 L1535.2 627.4 L1538.3 627.3 L1541.4 626.7 L1544.5 627.9 L1547.6 627.3 L1550.7 626.6 L1553.7 626.8 L1556.8 627.9 L1559.9 626.9 L1563.0 627.3 L1566.1 627.4 L1569.1 628.1 L1572.2 628.6 L1575.3 628.0 L1578.4 628.4 L1581.4 628.7 L1584.5 628.3 L1587.6 629.9 L1590.6 628.8 L1593.7 630.5 L1596.8 629.5 L1599.9 629.8 L1602.9 631.1 L1606.0 630.8 L1609.0 631.7 L1612.0 631.1 L1615.0 632.0 L1618.0 632.2 L1621.0 633.0 L1624.0 632.5 L1627.0 633.9 L1630.0 634.5 L1633.0 634.4 L1636.0 635.1 L1639.0 635.5 L1642.0 635.2 L1647.0 642.0 L1650.0 645.0 L1654.0 639.0 L1657.1 638.6 L1660.2 639.2 L1663.4 639.0 L1666.5 638.4 L1669.6 637.5 L1672.7 638.1 L1675.8 638.4 L1678.9 637.2 L1682.1 637.6 L1685.2 637.8 L1688.3 637.2 L1691.4 636.1 L1694.5 636.8 L1697.6 636.1 L1700.8 636.8 L1703.9 636.3 L1707.0 635.9 L1714.0 643.0 L1720.0 641.0 L1723.2 640.2 L1726.4 640.7 L1729.6 639.8 L1732.8 638.9 L1736.0 638.7 L1744.0 643.0 L1748.0 651.7 L1750.0 668.9 L1755.0 686.0 L1759.4 714.8 L1765.0 720.5 L1771.0 741.0 L1775.4 726.3 L1779.0 691.8 L1783.5 668.9 L1789.0 654.0 L1798.4 648.2 L1806.4 657.4 L1815.6 651.7 L1823.7 664.3 L1827.1 664.8 L1830.6 664.9 L1834.0 664.3 L1836.3 698.7 L1839.7 664.3 L1842.0 651.7 L1845.2 652.3 L1848.4 652.3 L1851.6 652.0 L1854.8 652.0 L1858.0 651.7 L1865.0 674.6 L1868.4 676.7 L1871.9 678.4 L1875.3 680.3 L1886.6 666.3 L1890.0 670.0 L1895.0 679.6 L1904.9 714.5 L1916.5 676.3 L1926.4 716.1 L1931.4 765.9 L1933.1 835.5 L1939.7 749.3 L1946.3 697.9 L1954.6 732.7 L1962.9 790.7 L1966.0 850.0 L1972.9 924.0 L1981.3 966.0 L1987.0 1036.0 L1992.6 1120.5 L1995.4 1148.5 L1999.6 1120.5 L2003.8 1036.0 L2009.4 952.0 L2015.0 868.0 L2019.0 800.0 L2026.8 762.0 L2034.4 775.0 L2040.0 815.0 L2044.0 826.0 L2050.0 780.0 L2056.0 717.0 L2061.2 708.5 L2071.4 720.0 L2081.6 743.0 L2089.3 720.0 L2097.0 736.5 L2101.0 750.5 L2111.0 711.0 L2123.5 670.5 L2133.3 683.1 L2140.3 718.2 L2147.3 760.3 L2151.6 802.4 L2158.6 760.3 L2164.2 711.2 L2172.6 686.0 L2176.8 686.0 L2181.0 684.5 L2184.7 686.2 L2188.5 687.6 L2192.2 690.2 L2203.5 707.0 L2210.5 757.5 L2217.5 718.2 L2224.5 676.1 L2231.5 664.9 L2235.3 663.8 L2239.0 662.1 L2242.8 660.7 L2255.4 670.5 L2269.4 660.7 L2272.9 660.8 L2276.4 660.9 L2280.0 660.3 L2283.5 660.7 L2286.8 660.7 L2290.0 660.9 L2293.3 662.1 L2298.0 664.0" fill="none" stroke="#000000" stroke-opacity="0.35" stroke-width="13.0" stroke-linejoin="round" stroke-linecap="round"/>
<path d="M170.0 625.0 L173.1 624.6 L176.2 624.4 L179.3 624.8 L182.4 624.4 L185.5 624.3 L188.6 624.8 L191.7 625.7 L194.8 625.5 L197.9 625.4 L201.0 624.6 L204.1 625.1 L207.2 624.6 L210.3 624.5 L213.4 624.4 L216.5 624.5 L219.6 625.7 L222.7 625.5 L225.8 625.5 L228.9 625.5 L232.0 625.0 L235.1 624.7 L238.1 625.0 L241.2 625.6 L244.3 625.9 L247.4 626.3 L250.4 626.5 L253.5 625.3 L256.6 626.3 L259.6 626.6 L262.7 626.4 L265.8 626.1 L268.9 626.7 L271.9 626.2 L275.0 627.0 L278.1 627.6 L281.2 627.4 L284.3 626.7 L287.4 626.2 L290.6 627.1 L293.7 626.4 L296.8 626.8 L299.9 626.7 L303.0 626.0 L306.1 625.9 L309.1 625.7 L312.2 625.9 L315.2 625.6 L318.3 625.1 L321.3 625.2 L324.4 625.9 L327.4 624.6 L330.5 624.6 L333.5 625.4 L336.6 624.8 L339.6 625.1 L342.7 624.9 L345.7 624.6 L348.8 625.6 L351.8 624.2 L354.9 624.5 L357.9 624.1 L361.0 624.5 L364.7 625.4 L368.3 625.5 L372.0 626.5 L375.1 627.1 L378.2 628.5 L381.4 628.7 L384.5 629.8 L387.6 631.2 L390.8 630.7 L393.9 631.5 L397.0 633.0 L400.0 632.8 L403.0 633.8 L406.0 633.8 L409.0 633.4 L412.0 633.7 L415.0 633.7 L418.0 634.4 L421.2 634.3 L424.4 633.5 L427.7 634.5 L430.9 634.7 L434.1 634.7 L437.3 634.3 L440.6 634.6 L443.8 633.0 L447.0 633.7 L450.2 633.5 L453.4 634.8 L456.7 634.6 L459.9 634.2 L463.1 635.2 L466.3 634.9 L469.6 635.4 L472.8 634.7 L476.0 635.2 L479.0 634.4 L482.0 634.6 L485.0 633.8 L488.0 633.9 L491.0 634.6 L494.0 633.3 L497.0 632.5 L500.0 633.0 L503.3 631.3 L506.7 630.5 L510.0 630.5 L513.3 628.8 L516.7 627.7 L520.0 627.0 L523.1 626.2 L526.1 627.5 L529.2 626.4 L532.2 625.9 L535.3 625.5 L538.3 625.4 L541.4 625.4 L544.4 626.1 L547.5 625.1 L550.6 624.8 L553.6 625.3 L556.7 624.8 L559.7 625.8 L562.8 624.3 L565.8 624.8 L568.9 625.0 L571.9 624.3 L575.0 624.3 L578.0 625.1 L581.1 624.3 L584.1 623.9 L587.2 624.2 L590.2 623.6 L593.3 624.2 L596.3 623.9 L599.4 624.9 L602.4 624.8 L605.5 624.3 L608.5 623.6 L611.5 623.9 L614.6 623.9 L617.6 623.8 L620.7 623.9 L623.7 624.9 L626.8 623.7 L629.8 623.6 L632.9 625.0 L635.9 624.4 L639.0 625.1 L642.0 624.3 L645.1 624.2 L648.2 625.0 L651.3 624.6 L654.4 624.9 L657.5 624.9 L660.5 624.5 L663.6 623.9 L666.7 624.1 L669.8 625.2 L672.9 625.3 L676.0 625.3 L679.1 624.4 L682.2 625.0 L685.3 625.2 L688.4 625.0 L691.5 625.3 L694.5 624.9 L697.6 625.1 L700.7 625.2 L703.8 624.6 L706.9 625.6 L710.0 625.0 L713.1 626.0 L716.2 624.8 L719.2 626.5 L722.3 626.8 L725.4 626.6 L728.5 625.8 L731.5 627.5 L734.6 626.5 L737.7 628.1 L740.8 627.9 L743.8 627.2 L746.9 627.6 L750.0 628.4 L753.1 628.8 L756.2 628.9 L759.3 629.3 L762.4 629.8 L765.5 628.9 L768.5 628.7 L771.6 630.3 L774.7 629.1 L777.8 630.6 L780.9 629.6 L784.0 630.4 L793.4 636.5 L799.5 653.6 L806.6 676.5 L809.7 675.3 L812.9 673.6 L816.0 671.4 L822.5 681.6 L831.4 705.9 L840.4 726.3 L844.2 728.6 L848.0 729.8 L851.8 731.4 L862.0 753.0 L872.9 776.0 L881.2 759.4 L888.8 727.6 L895.2 709.7 L901.6 707.1 L909.2 719.9 L915.6 702.0 L920.7 671.4 L925.8 656.1 L938.6 645.9 L941.8 645.6 L945.0 643.5 L948.1 643.3 L951.3 642.1 L954.8 641.8 L958.2 642.8 L961.6 642.6 L965.1 642.1 L968.5 642.2 L972.0 642.2 L975.0 639.9 L978.0 638.5 L981.0 637.9 L984.0 636.2 L987.0 635.3 L990.0 633.4 L993.0 631.7 L996.1 631.0 L999.2 631.3 L1002.2 631.9 L1005.3 631.4 L1008.4 630.5 L1011.5 631.7 L1014.6 631.6 L1017.7 630.3 L1020.8 630.9 L1023.8 630.6 L1026.9 631.2 L1030.0 630.3 L1033.1 630.1 L1036.2 630.4 L1039.2 631.1 L1042.3 629.6 L1045.4 629.5 L1048.5 630.2 L1051.6 630.6 L1054.7 629.9 L1057.8 629.7 L1060.8 630.3 L1063.9 630.0 L1067.0 629.5 L1070.0 628.7 L1073.0 630.0 L1076.0 628.8 L1079.0 628.9 L1082.0 629.7 L1085.0 628.9 L1088.0 629.5 L1091.0 628.4 L1094.0 629.4 L1097.0 628.2 L1100.0 628.1 L1103.0 628.6 L1106.0 628.3 L1109.0 628.5 L1112.0 629.0 L1115.0 628.6 L1118.0 627.4 L1121.0 627.8 L1124.0 628.1 L1127.0 628.0 L1130.0 628.3 L1133.0 627.8 L1136.0 627.1 L1139.0 627.3 L1142.0 628.2 L1145.0 627.3 L1148.0 627.9 L1151.0 627.4 L1154.0 628.1 L1157.0 627.5 L1160.0 627.5 L1163.0 627.4 L1166.0 626.9 L1169.0 627.8 L1172.0 627.0 L1175.0 627.7 L1178.0 626.7 L1181.0 627.5 L1184.0 627.3 L1187.0 627.0 L1190.0 626.7 L1193.0 626.2 L1196.0 627.1 L1199.0 626.4 L1202.0 626.8 L1205.0 626.0 L1208.0 625.8 L1211.0 625.9 L1214.0 626.4 L1217.0 626.8 L1220.1 625.8 L1223.1 626.9 L1226.2 626.0 L1229.2 626.3 L1232.3 625.8 L1235.3 626.2 L1238.4 625.3 L1241.4 625.8 L1244.5 626.6 L1247.5 625.3 L1250.6 626.0 L1253.6 625.4 L1256.7 625.3 L1259.7 624.9 L1262.8 624.8 L1265.8 626.2 L1268.9 626.0 L1271.9 625.9 L1275.0 625.8 L1278.0 625.3 L1281.0 626.1 L1284.0 624.8 L1287.0 625.6 L1290.0 625.4 L1293.0 625.6 L1296.0 626.2 L1299.0 626.0 L1302.0 626.4 L1305.0 625.0 L1308.0 625.9 L1311.0 626.0 L1314.0 626.2 L1317.0 626.0 L1320.0 626.4 L1323.0 625.6 L1326.0 626.6 L1329.0 625.8 L1332.0 626.2 L1335.0 626.7 L1338.0 626.4 L1341.0 625.8 L1344.0 625.7 L1347.0 625.9 L1350.0 626.4 L1353.0 627.1 L1356.0 627.0 L1359.0 626.2 L1362.0 626.4 L1365.0 626.2 L1368.0 626.8 L1371.0 625.9 L1374.0 626.1 L1377.0 625.4 L1380.0 625.6 L1383.0 626.2 L1386.0 626.4 L1389.0 626.2 L1392.0 625.8 L1395.0 626.7 L1398.0 626.1 L1401.0 625.3 L1404.0 625.1 L1407.0 626.5 L1410.0 626.5 L1413.0 626.4 L1416.0 625.8 L1419.0 625.3 L1422.0 624.9 L1425.0 625.1 L1428.0 625.0 L1431.0 626.1 L1434.0 626.0 L1437.0 625.8 L1440.0 625.3 L1443.1 624.9 L1446.1 625.1 L1449.2 625.3 L1452.2 626.5 L1455.3 625.3 L1458.4 626.5 L1461.4 626.4 L1464.5 626.3 L1467.5 627.1 L1470.6 626.1 L1473.6 626.6 L1476.7 626.2 L1479.8 626.2 L1482.8 626.2 L1485.9 626.8 L1488.9 626.6 L1492.0 627.3 L1495.1 626.6 L1498.2 628.1 L1501.3 627.0 L1504.3 627.9 L1507.4 627.6 L1510.5 627.7 L1513.6 627.5 L1516.7 628.0 L1519.8 627.9 L1522.9 627.7 L1526.0 627.4 L1529.0 627.6 L1532.1 627.7 L1535.2 627.4 L1538.3 627.3 L1541.4 626.7 L1544.5 627.9 L1547.6 627.3 L1550.7 626.6 L1553.7 626.8 L1556.8 627.9 L1559.9 626.9 L1563.0 627.3 L1566.1 627.4 L1569.1 628.1 L1572.2 628.6 L1575.3 628.0 L1578.4 628.4 L1581.4 628.7 L1584.5 628.3 L1587.6 629.9 L1590.6 628.8 L1593.7 630.5 L1596.8 629.5 L1599.9 629.8 L1602.9 631.1 L1606.0 630.8 L1609.0 631.7 L1612.0 631.1 L1615.0 632.0 L1618.0 632.2 L1621.0 633.0 L1624.0 632.5 L1627.0 633.9 L1630.0 634.5 L1633.0 634.4 L1636.0 635.1 L1639.0 635.5 L1642.0 635.2 L1647.0 642.0 L1650.0 645.0 L1654.0 639.0 L1657.1 638.6 L1660.2 639.2 L1663.4 639.0 L1666.5 638.4 L1669.6 637.5 L1672.7 638.1 L1675.8 638.4 L1678.9 637.2 L1682.1 637.6 L1685.2 637.8 L1688.3 637.2 L1691.4 636.1 L1694.5 636.8 L1697.6 636.1 L1700.8 636.8 L1703.9 636.3 L1707.0 635.9 L1714.0 643.0 L1720.0 641.0 L1723.2 640.2 L1726.4 640.7 L1729.6 639.8 L1732.8 638.9 L1736.0 638.7 L1744.0 643.0 L1748.0 651.7 L1750.0 668.9 L1755.0 686.0 L1759.4 714.8 L1765.0 720.5 L1771.0 741.0 L1775.4 726.3 L1779.0 691.8 L1783.5 668.9 L1789.0 654.0 L1798.4 648.2 L1806.4 657.4 L1815.6 651.7 L1823.7 664.3 L1827.1 664.8 L1830.6 664.9 L1834.0 664.3 L1836.3 698.7 L1839.7 664.3 L1842.0 651.7 L1845.2 652.3 L1848.4 652.3 L1851.6 652.0 L1854.8 652.0 L1858.0 651.7 L1865.0 674.6 L1868.4 676.7 L1871.9 678.4 L1875.3 680.3 L1886.6 666.3 L1890.0 670.0 L1895.0 679.6 L1904.9 714.5 L1916.5 676.3 L1926.4 716.1 L1931.4 765.9 L1933.1 835.5 L1939.7 749.3 L1946.3 697.9 L1954.6 732.7 L1962.9 790.7 L1966.0 850.0 L1972.9 924.0 L1981.3 966.0 L1987.0 1036.0 L1992.6 1120.5 L1995.4 1148.5 L1999.6 1120.5 L2003.8 1036.0 L2009.4 952.0 L2015.0 868.0 L2019.0 800.0 L2026.8 762.0 L2034.4 775.0 L2040.0 815.0 L2044.0 826.0 L2050.0 780.0 L2056.0 717.0 L2061.2 708.5 L2071.4 720.0 L2081.6 743.0 L2089.3 720.0 L2097.0 736.5 L2101.0 750.5 L2111.0 711.0 L2123.5 670.5 L2133.3 683.1 L2140.3 718.2 L2147.3 760.3 L2151.6 802.4 L2158.6 760.3 L2164.2 711.2 L2172.6 686.0 L2176.8 686.0 L2181.0 684.5 L2184.7 686.2 L2188.5 687.6 L2192.2 690.2 L2203.5 707.0 L2210.5 757.5 L2217.5 718.2 L2224.5 676.1 L2231.5 664.9 L2235.3 663.8 L2239.0 662.1 L2242.8 660.7 L2255.4 670.5 L2269.4 660.7 L2272.9 660.8 L2276.4 660.9 L2280.0 660.3 L2283.5 660.7 L2286.8 660.7 L2290.0 660.9 L2293.3 662.1 L2298.0 664.0" fill="none" stroke="#000000" stroke-width="9.0" stroke-linejoin="round" stroke-linecap="round"/>
<polygon points="2297.0,660.0 2301.0,646.0 2312.0,643.5 2314.0,660.0 2315.6,703.0 2311.0,706.0 2305.0,711.5 2299.0,711.5 2296.0,700.0 2295.5,680.0" fill="#000000" stroke="#000000" stroke-width="1.5" stroke-linejoin="round"/>
<rect x="162.8" y="34.8" width="6.8" height="1295" fill="#000"/>
<rect x="162.8" y="1323" width="2214.2" height="6.8" fill="#000"/>
<rect x="162.9" y="1323" width="6.8" height="23.7" fill="#000"/>
<rect x="478.2" y="1323" width="6.8" height="23.7" fill="#000"/>
<rect x="793.5" y="1323" width="6.8" height="23.7" fill="#000"/>
<rect x="1108.8" y="1323" width="6.8" height="23.7" fill="#000"/>
<rect x="1424.1" y="1323" width="6.8" height="23.7" fill="#000"/>
<rect x="1739.4" y="1323" width="6.8" height="23.7" fill="#000"/>
<rect x="2054.7" y="1323" width="6.8" height="23.7" fill="#000"/>
<rect x="2370.3" y="1323" width="6.8" height="23.7" fill="#000"/>
<rect x="1868.6" y="1268" width="119" height="3" fill="#000"/>
<text x="463.92 526.23 602.80 680.10 719.12 786.50 859.62 903.40 986.61 1061.70 1121.81 1182.10 1242.66" y="0" transform="matrix(0.51288 0 0 0.52078 0 203.36)" font-weight="normal" fill="#0068ad" stroke="#0068ad" stroke-width="4.73" stroke-linejoin="round">SBA-16/DAPTES</text>
<text x="477.75 542.56 618.50 696.49 735.13 803.11 876.18 919.44 1002.70 1073.57 1139.52 1198.63 1256.28" y="0" transform="matrix(0.51456 0 0 0.50649 0 339.49)" font-weight="normal" fill="#71913f" stroke="#71913f" stroke-width="4.87" stroke-linejoin="round">SBA-15/DAPTES</text>
<text x="488.97 560.73 593.39 656.65 697.42 773.80 818.58 905.08 984.28 1052.27 1110.24 1173.42" y="0" transform="matrix(0.49937 0 0 0.52208 0 497.96)" font-weight="normal" fill="#c00000" stroke="#c00000" stroke-width="4.72" stroke-linejoin="round">KIT-6/DAPTES</text>
<text x="557.24 646.16 724.94 790.60 852.87 914.70" y="0" transform="matrix(0.49562 0 0 0.51818 0 713.26)" font-weight="normal" fill="#000" stroke="#000" stroke-width="4.76" stroke-linejoin="round">DAPTES</text>
<text x="1184.12 1287.80 1343.89 1398.49 1458.29 1521.46 1583.92 1682.02 1744.83 1804.86 1846.30 1876.30 1896.96 1946.85" y="0" transform="matrix(0.69973 0 0 0.65325 0 1584.29)" font-weight="normal" fill="#000" stroke="#000" stroke-width="4.06" stroke-linejoin="round">Wavenumber, cm</text>
<text x="-0.44 61.33 108.99 170.72 236.09 290.13 393.46 425.18 468.23 503.57 568.47 633.47 686.01 745.29 775.29 796.40" y="0" transform="matrix(0 -0.66198 0.66234 0 75.88 929.20)" font-weight="normal" fill="#000" stroke="#000" stroke-width="4.01" stroke-linejoin="round">Transmittance, %</text>
<text transform="matrix(0.42163 0 0 0.41250 730.89 958.56)" font-weight="normal" fill="#000" stroke="#000" stroke-width="4.61" stroke-linejoin="round">3010</text>
<text transform="matrix(0.42163 0 0 0.41250 905.29 958.56)" font-weight="normal" fill="#000" stroke="#000" stroke-width="4.61" stroke-linejoin="round">2800</text>
<text transform="matrix(0.43651 0 0 0.41375 1700.27 917.86)" font-weight="normal" fill="#000" stroke="#000" stroke-width="4.59" stroke-linejoin="round">1450</text>
<text transform="matrix(0.44202 0 0 0.42436 1836.72 979.75)" font-weight="normal" fill="#000" stroke="#000" stroke-width="4.59" stroke-linejoin="round">1242</text>
<text transform="matrix(0.43992 0 0 0.41250 1867.14 1242.26)" font-weight="normal" fill="#000" stroke="#000" stroke-width="4.61" stroke-linejoin="round">1101</text>
<text transform="matrix(0.43112 0 0 0.41250 2014.92 1242.26)" font-weight="normal" fill="#000" stroke="#000" stroke-width="4.61" stroke-linejoin="round">1058</text>
<text transform="matrix(0.42459 0 0 0.40000 2056.80 1112.20)" font-weight="normal" fill="#000" stroke="#000" stroke-width="4.75" stroke-linejoin="round">930</text>
<text transform="matrix(0.42186 0 0 0.40500 2156.41 1070.99)" font-weight="normal" fill="#000" stroke="#000" stroke-width="4.69" stroke-linejoin="round">800</text>
<text transform="matrix(0.42833 0 0 0.41375 2207.03 941.56)" font-weight="normal" fill="#000" stroke="#000" stroke-width="4.59" stroke-linejoin="round">758</text>
<text transform="matrix(0.50213 0 0 0.47792 1487.68 1560.74)" font-weight="normal" fill="#000" stroke="#000" stroke-width="4.13" stroke-linejoin="round">1</text>
<text transform="matrix(0.64286 0 0 0.42500 1437.77 1559.98)" font-weight="normal" fill="#000">−</text>
<text transform="matrix(0.57854 0 0 0.55125 89.66 1437.25)" font-weight="normal" fill="#000" stroke="#000" stroke-width="4.14" stroke-linejoin="round">4000</text>
<text transform="matrix(0.57254 0 0 0.54500 408.76 1437.07)" font-weight="normal" fill="#000" stroke="#000" stroke-width="4.18" stroke-linejoin="round">3500</text>
<text transform="matrix(0.57377 0 0 0.54500 723.46 1437.16)" font-weight="normal" fill="#000" stroke="#000" stroke-width="4.18" stroke-linejoin="round">3000</text>
<text transform="matrix(0.57714 0 0 0.54500 1038.31 1437.27)" font-weight="normal" fill="#000" stroke="#000" stroke-width="4.18" stroke-linejoin="round">2500</text>
<text transform="matrix(0.57143 0 0 0.54500 1354.64 1437.16)" font-weight="normal" fill="#000" stroke="#000" stroke-width="4.18" stroke-linejoin="round">2000</text>
<text transform="matrix(0.58091 0 0 0.54500 1667.57 1437.16)" font-weight="normal" fill="#000" stroke="#000" stroke-width="4.18" stroke-linejoin="round">1500</text>
<text transform="matrix(0.58091 0 0 0.54500 1982.87 1437.16)" font-weight="normal" fill="#000" stroke="#000" stroke-width="4.18" stroke-linejoin="round">1000</text>
<text transform="matrix(0.58667 0 0 0.54625 2319.38 1437.06)" font-weight="normal" fill="#000" stroke="#000" stroke-width="4.17" stroke-linejoin="round">500</text>
</svg>
</body></html>
